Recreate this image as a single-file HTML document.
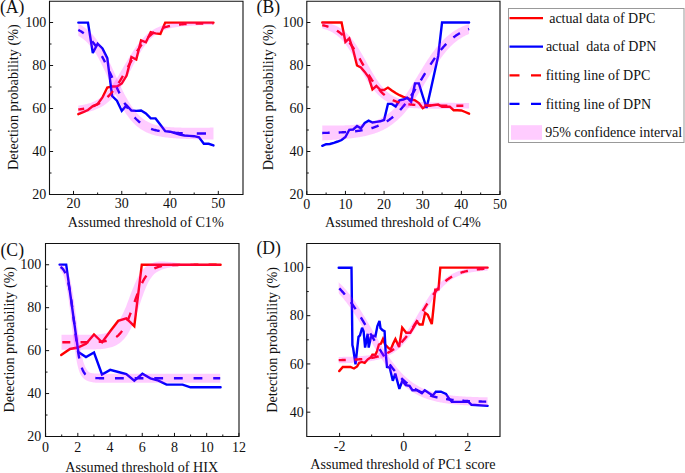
<!DOCTYPE html><html><head><meta charset="utf-8"><style>html,body{margin:0;padding:0;background:#fff;}svg{display:block}</style></head><body>
<svg width="685" height="473" viewBox="0 0 685 473" font-family='"Liberation Serif", serif' fill="#111">
<rect x="0" y="0" width="685" height="473" fill="#fff"/>
<polyline points="78.33,114.2 83.15,112.2 87.98,110 92.81,106 97.63,104 102.46,97.5 107.29,87.5 112.12,86.5 116.94,86.5 121.77,83.5 126.6,75.5 131.42,57 136.25,59.5 141.08,40.3 145.91,42.3 150.73,32.1 155.56,33.4 160.39,34 165.21,22.6 170.04,22.6 174.87,22.6 179.69,22.6 184.52,22.6 189.35,22.6 194.18,22.6 199,22.6 203.83,22.6 208.66,22.6 213.48,22.6" fill="none" stroke="#ff0000" stroke-width="2.4" stroke-linejoin="miter" stroke-miterlimit="3" stroke-linecap="round"/>
<polyline points="78.33,22.6 83.15,22.6 87.98,22.6 92.81,53 97.63,43.7 102.46,48.4 107.29,58.2 112.12,96 116.94,100.7 121.77,110.9 126.6,105.2 131.42,110.5 136.25,110.9 141.08,110.5 145.91,113.5 150.73,118.4 155.56,118.4 160.39,124.7 165.21,131.1 170.04,131.7 174.87,133 179.69,134.5 184.52,135.5 189.35,135.9 194.18,136.2 199,137.4 203.83,143.8 208.66,143.8 213.48,145.4" fill="none" stroke="#0000ff" stroke-width="2.4" stroke-linejoin="miter" stroke-miterlimit="3" stroke-linecap="round"/>
<path d="M78.33,109.56 L78.82,109.5 L79.36,109.43 L79.9,109.36 L80.45,109.29 L80.99,109.21 L81.48,109.13 L82.02,109.05 L82.56,108.96 L83.1,108.87 L83.64,108.77 L84.16,108.68 M93.01,106.29 L93.6,106.06 L94.24,105.81 L94.87,105.55 L95.54,105.26 L96.17,104.98 L96.8,104.68 L97.44,104.36 L98.11,104.01 L98.74,103.67 L99.37,103.31 L100.01,102.94 M107.51,97.13 L107.98,96.68 L108.48,96.18 L108.97,95.67 L109.47,95.15 L109.96,94.61 L110.46,94.06 L110.96,93.5 L111.45,92.92 L111.95,92.33 L112.44,91.72 L112.94,91.1 M118.62,83.03 L118.98,82.47 L119.38,81.82 L119.79,81.17 L120.15,80.59 L120.55,79.92 L120.96,79.25 L121.37,78.57 L121.73,77.96 L122.13,77.27 L122.54,76.58 L122.93,75.91 M127.83,67.2 L128.17,66.58 L128.53,65.93 L128.94,65.2 L129.3,64.56 L129.66,63.91 L130.06,63.18 L130.42,62.54 L130.79,61.9 L131.19,61.18 L131.55,60.55 L131.91,59.91 M137.03,51.36 L137.41,50.78 L137.86,50.08 L138.27,49.47 L138.72,48.79 L139.12,48.19 L139.57,47.54 L139.98,46.96 L140.43,46.32 L140.83,45.76 L141.29,45.15 L141.72,44.57 M148.13,37.25 L148.63,36.77 L149.22,36.23 L149.76,35.75 L150.34,35.24 L150.93,34.75 L151.47,34.32 L152.06,33.86 L152.64,33.42 L153.18,33.03 L153.77,32.62 L154.32,32.25 M162.62,28.06 L163.23,27.84 L163.91,27.61 L164.59,27.38 L165.26,27.17 L165.94,26.97 L166.61,26.78 L167.29,26.6 L167.97,26.43 L168.64,26.26 L169.32,26.11 L169.99,25.96 M179,24.58 L179.64,24.52 L180.31,24.45 L181.03,24.38 L181.71,24.33 L182.43,24.27 L183.11,24.21 L183.83,24.16 L184.5,24.11 L185.23,24.07 L185.9,24.02 L186.58,23.98 M195.68,23.62 L196.31,23.6 L196.99,23.58 L197.71,23.57 L198.39,23.55 L199.11,23.54 L199.78,23.52 L200.5,23.51 L201.18,23.5 L201.9,23.48 L202.58,23.47 L203.27,23.46 M212.37,23.37 L212.45,23.37 L212.54,23.37 L212.63,23.37 L212.76,23.37 L212.85,23.36 L212.94,23.36 L213.03,23.36 L213.17,23.36 L213.26,23.36 L213.35,23.36 L213.48,23.36" fill="none" stroke="#ff0000" stroke-width="2.4" stroke-linecap="butt" stroke-linejoin="round"/>
<path d="M78.33,29.92 L78.82,30.18 L79.32,30.44 L79.81,30.71 L80.31,30.99 L80.81,31.28 L81.3,31.58 L81.8,31.89 L82.29,32.22 L82.79,32.55 L83.28,32.89 L83.79,33.26 M92.14,41.23 L92.48,41.63 L92.88,42.13 L93.29,42.65 L93.65,43.11 L94.06,43.65 L94.46,44.19 L94.87,44.75 L95.23,45.25 L95.63,45.83 L96.04,46.42 L96.41,46.97 M101.88,56.11 L102.12,56.56 L102.39,57.07 L102.71,57.66 L102.98,58.18 L103.29,58.78 L103.56,59.31 L103.88,59.92 L104.15,60.45 L104.47,61.08 L104.74,61.62 L105.03,62.2 M109.5,71.62 L109.69,72.04 L109.96,72.63 L110.23,73.22 L110.5,73.81 L110.78,74.4 L111,74.9 L111.27,75.49 L111.54,76.09 L111.81,76.69 L112.08,77.28 L112.31,77.79 M116.63,87.24 L116.86,87.74 L117.13,88.31 L117.4,88.89 L117.67,89.46 L117.94,90.04 L118.21,90.61 L118.48,91.17 L118.75,91.74 L119.02,92.3 L119.29,92.85 L119.55,93.38 M124.41,102.71 L124.7,103.23 L125.02,103.78 L125.38,104.4 L125.69,104.94 L126.01,105.47 L126.37,106.07 L126.68,106.59 L127,107.1 L127.36,107.68 L127.68,108.18 L127.99,108.67 M134.62,117.43 L135.11,117.96 L135.61,118.49 L136.1,119 L136.6,119.49 L137.09,119.97 L137.64,120.48 L138.13,120.93 L138.63,121.37 L139.12,121.8 L139.62,122.21 L140.12,122.61 M151.1,128.76 L151.83,129.02 L152.6,129.28 L153.41,129.55 L154.17,129.78 L154.94,130 L155.75,130.22 L156.52,130.42 L157.28,130.6 L158.1,130.78 L158.86,130.95 L159.65,131.11 M173.53,132.77 L174.32,132.82 L175.18,132.88 L175.99,132.92 L176.84,132.97 L177.7,133.01 L178.51,133.05 L179.37,133.08 L180.22,133.12 L181.03,133.15 L181.89,133.18 L182.71,133.21 M196.8,133.48 L197.57,133.49 L198.43,133.5 L199.29,133.5 L200.1,133.51 L200.95,133.52 L201.81,133.52 L202.67,133.53 L203.48,133.53 L204.33,133.54 L205.19,133.54 L206,133.55" fill="none" stroke="#0000ff" stroke-width="2.4" stroke-linecap="butt" stroke-linejoin="round"/>
<clipPath id="c1"><rect x="78.33" y="0" width="135.16" height="473"/></clipPath>
<path d="M65.18,31.28 L65.94,31.44 L66.67,31.61 L67.4,31.78 L68.12,31.97 L68.84,32.16 L69.55,32.37 L70.27,32.59 L70.98,32.82 L71.68,33.06 L72.38,33.32 L73.08,33.59 L73.78,33.88 L74.47,34.18 L75.16,34.5 L75.86,34.82 L76.58,35.12 L77.29,35.45 L78.01,35.8 L78.73,36.18 L79.45,36.58 L80.18,37 L80.9,37.46 L81.64,37.94 L82.37,38.46 L83.11,39 L83.86,39.59 L84.61,40.2 L85.36,40.86 L86.12,41.55 L86.89,42.29 L87.66,43.07 L88.44,43.89 L89.22,44.75 L90,45.66 L90.8,46.61 L91.59,47.62 L92.39,48.67 L93.2,49.76 L94.01,50.91 L94.82,52.1 L95.63,53.34 L96.45,54.62 L97.23,55.97 L98.01,57.37 L98.79,58.81 L99.57,60.29 L100.35,61.81 L101.14,63.37 L101.92,64.96 L102.71,66.58 L103.5,68.23 L104.29,69.9 L105.09,71.6 L105.88,73.32 L106.68,75.06 L107.47,76.81 L108.27,78.56 L109.07,80.33 L109.87,82.09 L110.67,83.86 L111.48,85.62 L112.28,87.37 L113.09,89.11 L113.89,90.83 L114.69,92.55 L115.48,94.24 L116.26,95.92 L117.05,97.57 L117.84,99.19 L118.63,100.78 L119.42,102.33 L120.22,103.86 L121.02,105.34 L121.82,106.79 L122.62,108.2 L123.43,109.58 L124.24,110.91 L125.05,112.2 L125.87,113.46 L126.69,114.67 L127.52,115.84 L128.35,116.98 L129.19,118.07 L130.02,119.13 L130.87,120.14 L131.72,121.12 L132.57,122.05 L133.43,122.95 L134.29,123.82 L135.15,124.65 L136.02,125.44 L136.89,126.19 L137.77,126.92 L138.65,127.61 L139.53,128.27 L140.42,128.89 L141.3,129.49 L142.19,130.06 L143.08,130.59 L143.98,131.08 L144.87,131.55 L145.77,131.99 L146.66,132.41 L147.56,132.81 L148.45,133.18 L149.33,133.53 L150.22,133.86 L151.1,134.17 L151.98,134.47 L152.86,134.74 L153.73,135.01 L154.6,135.25 L155.47,135.48 L156.34,135.7 L157.2,135.9 L158.06,136.1 L158.92,136.28 L159.77,136.45 L160.62,136.61 L161.47,136.76 L162.32,136.9 L163.16,137.04 L164,137.17 L164.84,137.29 L165.68,137.4 L166.52,137.5 L167.35,137.61 L168.18,137.7 L169.01,137.79 L169.84,137.88 L170.67,137.96 L171.49,138.03 L172.31,138.1 L173.14,138.17 L173.96,138.24 L174.78,138.3 L175.6,138.36 L176.41,138.41 L177.23,138.46 L178.05,138.51 L178.86,138.56 L179.67,138.61 L180.49,138.65 L181.3,138.69 L182.11,138.73 L182.92,138.77 L183.73,138.8 L184.54,138.84 L185.35,138.87 L186.16,138.9 L186.97,138.93 L187.77,138.96 L188.58,138.99 L189.39,139.02 L190.19,139.05 L191,139.07 L191.8,139.1 L192.61,139.12 L193.41,139.14 L194.22,139.16 L195.02,139.19 L195.83,139.21 L196.63,139.23 L197.43,139.25 L198.24,139.27 L199.04,139.28 L199.84,139.3 L200.65,139.32 L201.45,139.34 L202.25,139.36 L203.05,139.37 L203.85,139.39 L204.66,139.41 L205.46,139.42 L206.26,139.44 L207.06,139.45 L207.86,139.47 L208.66,139.48 L209.46,139.5 L210.27,139.51 L211.07,139.53 L211.87,139.54 L212.67,139.55 L213.47,139.57 L214.27,139.58 L215.07,139.58 L215.87,139.58 L216.67,139.58 L217.47,139.59 L218.27,139.59 L219.07,139.59 L219.87,139.59 L220.68,139.59 L221.48,139.59 L222.28,139.59 L223.08,139.59 L223.88,139.6 L224.68,139.6 L225.48,139.6 L225.49,127.6 L224.69,127.6 L223.89,127.6 L223.09,127.59 L222.29,127.59 L221.49,127.59 L220.69,127.59 L219.89,127.59 L219.1,127.59 L218.3,127.59 L217.5,127.59 L216.7,127.58 L215.9,127.58 L215.1,127.58 L214.3,127.58 L213.5,127.58 L212.7,127.59 L211.91,127.6 L211.11,127.61 L210.31,127.62 L209.51,127.63 L208.71,127.64 L207.91,127.64 L207.12,127.65 L206.32,127.66 L205.52,127.67 L204.72,127.68 L203.92,127.68 L203.13,127.69 L202.33,127.7 L201.53,127.7 L200.73,127.71 L199.94,127.71 L199.14,127.72 L198.34,127.72 L197.55,127.73 L196.75,127.73 L195.96,127.73 L195.16,127.73 L194.36,127.74 L193.57,127.74 L192.77,127.74 L191.98,127.74 L191.19,127.74 L190.39,127.73 L189.6,127.73 L188.81,127.73 L188.01,127.72 L187.22,127.72 L186.43,127.71 L185.64,127.7 L184.85,127.69 L184.06,127.68 L183.27,127.67 L182.48,127.66 L181.69,127.64 L180.9,127.62 L180.12,127.6 L179.33,127.58 L178.55,127.56 L177.76,127.53 L176.98,127.51 L176.2,127.48 L175.42,127.44 L174.64,127.41 L173.86,127.37 L173.08,127.33 L172.3,127.28 L171.53,127.23 L170.76,127.18 L169.99,127.12 L169.22,127.06 L168.45,127 L167.68,126.93 L166.92,126.85 L166.16,126.77 L165.4,126.69 L164.64,126.59 L163.88,126.5 L163.13,126.39 L162.38,126.28 L161.63,126.16 L160.88,126.03 L160.14,125.9 L159.4,125.75 L158.67,125.6 L157.93,125.44 L157.2,125.27 L156.47,125.08 L155.75,124.89 L155.02,124.68 L154.31,124.47 L153.59,124.23 L152.87,123.99 L152.16,123.73 L151.45,123.46 L150.74,123.16 L150.04,122.86 L149.33,122.53 L148.63,122.19 L147.93,121.82 L147.22,121.44 L146.51,121.05 L145.8,120.63 L145.08,120.19 L144.36,119.72 L143.64,119.22 L142.92,118.69 L142.19,118.13 L141.46,117.54 L140.73,116.91 L139.99,116.25 L139.25,115.54 L138.5,114.8 L137.75,114.02 L136.99,113.2 L136.23,112.33 L135.47,111.42 L134.7,110.46 L133.92,109.46 L133.15,108.41 L132.36,107.32 L131.58,106.17 L130.79,104.99 L130,103.75 L129.2,102.47 L128.41,101.15 L127.6,99.78 L126.8,98.36 L125.99,96.91 L125.19,95.42 L124.38,93.88 L123.56,92.32 L122.75,90.72 L121.93,89.09 L121.13,87.43 L120.34,85.73 L119.55,84.02 L118.75,82.29 L117.95,80.54 L117.16,78.79 L116.36,77.02 L115.56,75.26 L114.76,73.49 L113.95,71.73 L113.15,69.98 L112.34,68.23 L111.54,66.5 L110.73,64.79 L109.92,63.1 L109.11,61.43 L108.29,59.79 L107.48,58.18 L106.66,56.59 L105.85,55.04 L105.02,53.53 L104.2,52.05 L103.38,50.6 L102.6,49.17 L101.82,47.77 L101.03,46.42 L100.24,45.1 L99.45,43.82 L98.65,42.59 L97.84,41.39 L97.04,40.23 L96.22,39.11 L95.4,38.03 L94.58,36.99 L93.75,35.98 L92.92,35.02 L92.08,34.09 L91.24,33.19 L90.39,32.34 L89.53,31.51 L88.67,30.72 L87.81,29.97 L86.94,29.25 L86.07,28.55 L85.19,27.89 L84.32,27.26 L83.44,26.66 L82.55,26.09 L81.67,25.55 L80.78,25.03 L79.88,24.56 L78.98,24.14 L78.07,23.75 L77.17,23.38 L76.27,23.03 L75.37,22.7 L74.48,22.39 L73.58,22.1 L72.7,21.83 L71.81,21.57 L70.93,21.33 L70.06,21.11 L69.18,20.9 L68.31,20.7 L67.48,20.52Z" fill="rgba(255,0,255,0.2)" stroke="none" clip-path="url(#c1)"/>
<clipPath id="c2"><rect x="78.33" y="0" width="135.16" height="473"/></clipPath>
<path d="M66.52,114.48 L67.32,114.44 L68.13,114.4 L68.95,114.36 L69.76,114.31 L70.58,114.26 L71.39,114.21 L72.21,114.15 L73.03,114.09 L73.85,114.02 L74.67,113.96 L75.49,113.88 L76.32,113.8 L77.14,113.72 L77.97,113.63 L78.8,113.53 L79.63,113.43 L80.46,113.32 L81.29,113.2 L82.13,113.08 L82.97,112.95 L83.81,112.81 L84.65,112.65 L85.5,112.49 L86.34,112.32 L87.19,112.14 L88.05,111.94 L88.9,111.73 L89.76,111.51 L90.62,111.27 L91.48,111.02 L92.34,110.75 L93.21,110.46 L94.08,110.16 L94.95,109.83 L95.82,109.49 L96.7,109.12 L97.58,108.74 L98.47,108.34 L99.35,107.92 L100.24,107.46 L101.12,106.98 L102.01,106.48 L102.9,105.94 L103.79,105.38 L104.67,104.79 L105.56,104.16 L106.44,103.5 L107.33,102.81 L108.21,102.09 L109.09,101.33 L109.97,100.54 L110.84,99.72 L111.71,98.86 L112.58,97.96 L113.44,97.02 L114.29,96.04 L115.13,95.03 L115.97,93.98 L116.8,92.9 L117.64,91.78 L118.46,90.63 L119.29,89.45 L120.11,88.24 L120.93,87 L121.75,85.73 L122.56,84.43 L123.37,83.11 L124.18,81.76 L124.99,80.39 L125.8,79 L126.6,77.6 L127.4,76.18 L128.2,74.75 L128.98,73.3 L129.74,71.84 L130.51,70.38 L131.27,68.92 L132.03,67.46 L132.79,66.01 L133.55,64.57 L134.31,63.13 L135.06,61.72 L135.82,60.32 L136.57,58.94 L137.32,57.59 L138.07,56.26 L138.82,54.95 L139.56,53.68 L140.31,52.44 L141.05,51.22 L141.79,50.05 L142.53,48.9 L143.28,47.8 L144.03,46.74 L144.77,45.71 L145.52,44.73 L146.26,43.77 L147,42.86 L147.74,41.98 L148.48,41.14 L149.21,40.33 L149.95,39.56 L150.68,38.82 L151.41,38.11 L152.14,37.44 L152.87,36.8 L153.6,36.18 L154.33,35.6 L155.06,35.04 L155.79,34.51 L156.52,34.01 L157.25,33.53 L157.99,33.07 L158.72,32.64 L159.46,32.23 L160.19,31.83 L160.93,31.46 L161.68,31.11 L162.42,30.79 L163.17,30.48 L163.92,30.19 L164.68,29.91 L165.43,29.65 L166.19,29.4 L166.95,29.16 L167.71,28.94 L168.47,28.73 L169.23,28.52 L170,28.33 L170.77,28.15 L171.54,27.98 L172.31,27.82 L173.08,27.67 L173.86,27.53 L174.63,27.39 L175.41,27.26 L176.19,27.14 L176.97,27.02 L177.75,26.91 L178.53,26.8 L179.32,26.71 L180.1,26.61 L180.89,26.52 L181.68,26.44 L182.46,26.36 L183.25,26.28 L184.04,26.21 L184.83,26.14 L185.62,26.07 L186.41,26.01 L187.2,25.95 L188,25.89 L188.79,25.84 L189.58,25.79 L190.37,25.74 L191.17,25.69 L191.96,25.65 L192.76,25.6 L193.55,25.56 L194.35,25.52 L195.14,25.48 L195.94,25.45 L196.74,25.41 L197.53,25.38 L198.33,25.34 L199.13,25.31 L199.92,25.28 L200.72,25.25 L201.52,25.22 L202.32,25.19 L203.11,25.17 L203.91,25.14 L204.71,25.12 L205.51,25.09 L206.31,25.07 L207.11,25.04 L207.9,25.02 L208.7,25 L209.5,24.97 L210.3,24.95 L211.1,24.93 L211.9,24.91 L212.7,24.89 L213.5,24.87 L214.3,24.86 L215.09,24.85 L215.89,24.85 L216.69,24.84 L217.49,24.84 L218.29,24.84 L219.09,24.83 L219.89,24.83 L220.69,24.83 L221.49,24.82 L222.29,24.82 L223.09,24.82 L223.89,24.82 L224.69,24.81 L225.49,24.81 L225.48,21.81 L224.68,21.81 L223.88,21.82 L223.08,21.82 L222.28,21.82 L221.48,21.82 L220.68,21.83 L219.88,21.83 L219.08,21.83 L218.28,21.84 L217.48,21.84 L216.68,21.84 L215.88,21.85 L215.08,21.85 L214.28,21.86 L213.48,21.85 L212.68,21.84 L211.88,21.83 L211.07,21.82 L210.27,21.82 L209.47,21.81 L208.67,21.8 L207.87,21.79 L207.07,21.79 L206.27,21.78 L205.47,21.78 L204.67,21.77 L203.87,21.77 L203.06,21.76 L202.26,21.76 L201.46,21.76 L200.66,21.76 L199.86,21.76 L199.05,21.76 L198.25,21.76 L197.45,21.77 L196.65,21.77 L195.84,21.78 L195.04,21.78 L194.23,21.79 L193.43,21.8 L192.63,21.82 L191.82,21.83 L191.02,21.85 L190.21,21.86 L189.4,21.88 L188.6,21.91 L187.79,21.93 L186.98,21.96 L186.18,21.99 L185.37,22.03 L184.56,22.06 L183.75,22.1 L182.94,22.15 L182.13,22.2 L181.31,22.25 L180.5,22.31 L179.69,22.37 L178.87,22.44 L178.06,22.51 L177.24,22.59 L176.42,22.67 L175.6,22.76 L174.78,22.86 L173.96,22.97 L173.14,23.08 L172.31,23.21 L171.49,23.34 L170.66,23.48 L169.83,23.63 L169,23.8 L168.16,23.97 L167.33,24.16 L166.49,24.36 L165.65,24.57 L164.81,24.8 L163.97,25.05 L163.12,25.31 L162.28,25.59 L161.43,25.88 L160.58,26.2 L159.73,26.54 L158.87,26.9 L158.01,27.26 L157.15,27.66 L156.28,28.07 L155.42,28.52 L154.55,28.99 L153.68,29.49 L152.81,30.01 L151.94,30.57 L151.07,31.16 L150.2,31.78 L149.33,32.43 L148.46,33.11 L147.6,33.83 L146.73,34.58 L145.86,35.37 L145,36.2 L144.13,37.06 L143.27,37.95 L142.41,38.88 L141.55,39.85 L140.7,40.85 L139.84,41.89 L138.99,42.97 L138.14,44.08 L137.28,45.22 L136.42,46.39 L135.57,47.58 L134.71,48.81 L133.85,50.07 L133,51.36 L132.15,52.67 L131.3,54 L130.45,55.36 L129.6,56.73 L128.76,58.12 L127.91,59.52 L127.07,60.93 L126.23,62.34 L125.39,63.76 L124.55,65.19 L123.71,66.6 L122.88,68.02 L122.05,69.42 L121.22,70.81 L120.42,72.21 L119.62,73.58 L118.83,74.93 L118.03,76.26 L117.24,77.56 L116.45,78.84 L115.66,80.08 L114.88,81.3 L114.09,82.47 L113.31,83.62 L112.54,84.73 L111.76,85.8 L110.99,86.83 L110.22,87.83 L109.46,88.78 L108.7,89.7 L107.94,90.58 L107.19,91.42 L106.45,92.24 L105.72,93.02 L104.99,93.76 L104.27,94.48 L103.54,95.15 L102.82,95.8 L102.11,96.41 L101.39,97 L100.67,97.55 L99.96,98.08 L99.25,98.58 L98.54,99.06 L97.83,99.51 L97.11,99.94 L96.4,100.34 L95.69,100.73 L94.97,101.09 L94.26,101.44 L93.54,101.77 L92.81,102.07 L92.09,102.36 L91.36,102.63 L90.63,102.89 L89.9,103.13 L89.16,103.36 L88.42,103.58 L87.68,103.78 L86.94,103.97 L86.2,104.16 L85.45,104.33 L84.7,104.49 L83.95,104.64 L83.19,104.79 L82.44,104.92 L81.68,105.05 L80.91,105.17 L80.15,105.29 L79.39,105.39 L78.62,105.49 L77.85,105.59 L77.08,105.68 L76.31,105.76 L75.53,105.84 L74.76,105.92 L73.98,105.99 L73.2,106.05 L72.42,106.11 L71.64,106.17 L70.86,106.22 L70.07,106.28 L69.29,106.32 L68.51,106.37 L67.72,106.41 L66.93,106.45 L66.14,106.49Z" fill="rgba(255,0,255,0.2)" stroke="none" clip-path="url(#c2)"/>
<path d="M49.5,1.3 V194.5 H243 V1.3 Z" fill="none" stroke="#111" stroke-width="1.1"/>
<line x1="49.5" y1="194.5" x2="53.1" y2="194.5" stroke="#111" stroke-width="1"/>
<text x="46.2" y="199.1" text-anchor="end" font-size="14" >20</text>
<line x1="49.5" y1="151.5" x2="53.1" y2="151.5" stroke="#111" stroke-width="1"/>
<text x="46.2" y="156.1" text-anchor="end" font-size="14" >40</text>
<line x1="49.5" y1="108.5" x2="53.1" y2="108.5" stroke="#111" stroke-width="1"/>
<text x="46.2" y="113.1" text-anchor="end" font-size="14" >60</text>
<line x1="49.5" y1="65.5" x2="53.1" y2="65.5" stroke="#111" stroke-width="1"/>
<text x="46.2" y="70.1" text-anchor="end" font-size="14" >80</text>
<line x1="49.5" y1="22.5" x2="53.1" y2="22.5" stroke="#111" stroke-width="1"/>
<text x="46.2" y="27.1" text-anchor="end" font-size="14" >100</text>
<line x1="49.5" y1="173" x2="51.5" y2="173" stroke="#111" stroke-width="1"/>
<line x1="49.5" y1="130" x2="51.5" y2="130" stroke="#111" stroke-width="1"/>
<line x1="49.5" y1="87" x2="51.5" y2="87" stroke="#111" stroke-width="1"/>
<line x1="49.5" y1="44" x2="51.5" y2="44" stroke="#111" stroke-width="1"/>
<line x1="73.5" y1="194.5" x2="73.5" y2="190.9" stroke="#111" stroke-width="1"/>
<text x="73.5" y="208.3" text-anchor="middle" font-size="14" >20</text>
<line x1="121.77" y1="194.5" x2="121.77" y2="190.9" stroke="#111" stroke-width="1"/>
<text x="121.77" y="208.3" text-anchor="middle" font-size="14" >30</text>
<line x1="170.04" y1="194.5" x2="170.04" y2="190.9" stroke="#111" stroke-width="1"/>
<text x="170.04" y="208.3" text-anchor="middle" font-size="14" >40</text>
<line x1="218.31" y1="194.5" x2="218.31" y2="190.9" stroke="#111" stroke-width="1"/>
<text x="218.31" y="208.3" text-anchor="middle" font-size="14" >50</text>
<line x1="97.63" y1="194.5" x2="97.63" y2="192.5" stroke="#111" stroke-width="1"/>
<line x1="145.91" y1="194.5" x2="145.91" y2="192.5" stroke="#111" stroke-width="1"/>
<line x1="194.18" y1="194.5" x2="194.18" y2="192.5" stroke="#111" stroke-width="1"/>
<text x="145.75" y="226.8" text-anchor="middle" font-size="14.15" >Assumed threshold of C1%</text>
<text transform="translate(17.8,97.2) rotate(-90)" text-anchor="middle" font-size="14.2">Detection probability (%)</text>
<text transform="translate(0.0,12.7) scale(1.02,1.08)" font-size="17.3">(A)</text>
<polyline points="322.26,22.5 326.12,22.5 329.98,22.5 333.85,22.5 337.71,22.5 341.58,22.5 345.44,41.9 349.3,38.3 353.17,50 357.03,65.5 360.9,67.4 364.76,71.9 368.62,77.2 372.49,89.3 376.35,86 380.22,89.8 384.08,90 387.94,87.6 391.81,90.4 395.67,93 399.54,95.2 403.4,96.8 407.26,98.1 411.13,99.3 414.99,100.3 418.86,103 422.72,108.2 426.58,106 430.45,105.5 434.31,105 438.18,104.6 442.04,106.7 445.9,106.7 449.77,106.7 453.63,110.2 457.5,110.2 461.36,110.5 465.22,112 469.09,113.7" fill="none" stroke="#ff0000" stroke-width="2.4" stroke-linejoin="miter" stroke-miterlimit="3" stroke-linecap="round"/>
<polyline points="322.26,145.8 326.12,144.2 329.98,144 333.85,142.8 337.71,141.5 341.58,140 345.44,137 349.3,129.8 353.17,129.5 357.03,126 360.9,128.3 364.76,123 368.62,120.7 372.49,122.5 376.35,121.9 380.22,121.3 384.08,120 387.94,103.9 391.81,103.9 395.67,106.5 399.54,100.3 403.4,99.5 407.26,97.8 411.13,102 414.99,83.4 418.86,83.4 422.72,96 426.58,108 430.45,91 434.31,73.6 438.18,56 442.04,22.5 445.9,22.5 449.77,22.5 453.63,22.5 457.5,22.5 461.36,22.5 465.22,22.5 469.09,22.5" fill="none" stroke="#0000ff" stroke-width="2.4" stroke-linejoin="miter" stroke-miterlimit="3" stroke-linecap="round"/>
<path d="M322.26,25.19 L322.79,25.3 L323.38,25.42 L323.92,25.54 L324.51,25.68 L325.05,25.81 L325.63,25.96 L326.17,26.11 L326.76,26.27 L327.3,26.43 L327.89,26.61 L328.46,26.79 M336.9,30.67 L337.38,30.97 L337.92,31.33 L338.46,31.69 L339,32.07 L339.54,32.46 L340.13,32.9 L340.67,33.33 L341.2,33.77 L341.74,34.22 L342.28,34.69 L342.86,35.21 M349.57,42.7 L349.92,43.16 L350.36,43.76 L350.75,44.3 L351.19,44.92 L351.63,45.55 L352.02,46.12 L352.46,46.76 L352.91,47.42 L353.3,48.02 L353.74,48.7 L354.14,49.32 M359.5,58.36 L359.81,58.92 L360.2,59.62 L360.54,60.23 L360.93,60.93 L361.28,61.55 L361.67,62.26 L362.01,62.88 L362.4,63.59 L362.75,64.21 L363.14,64.92 L363.49,65.55 M368.68,74.73 L369.06,75.37 L369.45,76.03 L369.85,76.68 L370.24,77.32 L370.63,77.95 L371.02,78.58 L371.41,79.2 L371.8,79.82 L372.2,80.42 L372.59,81.02 L372.99,81.63 M379.19,89.77 L379.64,90.28 L380.13,90.81 L380.67,91.38 L381.16,91.88 L381.64,92.36 L382.18,92.88 L382.67,93.34 L383.16,93.79 L383.7,94.26 L384.19,94.68 L384.72,95.12 M392.76,100.12 L393.35,100.39 L393.98,100.66 L394.57,100.9 L395.21,101.15 L395.79,101.37 L396.43,101.59 L397.02,101.79 L397.65,102 L398.24,102.18 L398.88,102.36 L399.48,102.53 M408.38,104.24 L408.96,104.32 L409.6,104.4 L410.24,104.47 L410.87,104.54 L411.51,104.6 L412.15,104.67 L412.78,104.72 L413.42,104.78 L414.06,104.83 L414.69,104.88 L415.35,104.93 M424.35,105.38 L424.97,105.4 L425.61,105.42 L426.25,105.44 L426.88,105.46 L427.52,105.47 L428.16,105.49 L428.79,105.5 L429.43,105.52 L430.07,105.53 L430.7,105.54 L431.34,105.56 M440.34,105.67 L440.94,105.67 L441.57,105.68 L442.21,105.68 L442.85,105.69 L443.48,105.69 L444.12,105.69 L444.75,105.7 L445.39,105.7 L446.03,105.71 L446.66,105.71 L447.34,105.71 M456.34,105.74 L456.95,105.74 L457.58,105.74 L458.22,105.74 L458.86,105.74 L459.49,105.75 L460.13,105.75 L460.76,105.75 L461.4,105.75 L462.04,105.75 L462.67,105.75 L463.34,105.75" fill="none" stroke="#ff0000" stroke-width="2.4" stroke-linecap="butt" stroke-linejoin="round"/>
<path d="M322.26,132.94 L322.89,132.93 L323.58,132.92 L324.26,132.91 L324.95,132.89 L325.63,132.88 L326.27,132.87 L326.96,132.85 L327.64,132.84 L328.33,132.82 L329.01,132.8 L329.68,132.79 M338.68,132.48 L339.34,132.45 L340.03,132.42 L340.71,132.39 L341.4,132.35 L342.08,132.32 L342.77,132.28 L343.46,132.24 L344.14,132.2 L344.83,132.16 L345.51,132.11 L346.17,132.07 M355.14,131.26 L355.74,131.19 L356.43,131.11 L357.12,131.02 L357.8,130.93 L358.49,130.84 L359.17,130.74 L359.86,130.64 L360.54,130.53 L361.23,130.42 L361.91,130.31 L362.59,130.19 M371.42,128.18 L372.05,128 L372.69,127.81 L373.37,127.59 L374.01,127.38 L374.64,127.17 L375.33,126.93 L375.97,126.7 L376.6,126.46 L377.29,126.2 L377.92,125.94 L378.59,125.67 M386.8,121.39 L387.32,121.06 L387.91,120.67 L388.5,120.27 L389.09,119.87 L389.67,119.45 L390.21,119.06 L390.8,118.62 L391.39,118.17 L391.98,117.7 L392.56,117.23 L393.14,116.75 M400.06,110.07 L400.49,109.59 L400.98,109.04 L401.47,108.48 L401.96,107.92 L402.45,107.34 L402.89,106.82 L403.38,106.22 L403.87,105.62 L404.36,105.01 L404.85,104.39 L405.29,103.82 M411.07,95.8 L411.41,95.28 L411.85,94.62 L412.25,94.03 L412.69,93.36 L413.08,92.76 L413.52,92.08 L413.91,91.48 L414.35,90.79 L414.74,90.18 L415.18,89.48 L415.59,88.84 M420.82,80.33 L421.2,79.69 L421.6,79.04 L421.99,78.39 L422.38,77.75 L422.77,77.1 L423.16,76.45 L423.55,75.8 L423.95,75.16 L424.34,74.51 L424.73,73.86 L425.14,73.19 M430.41,64.71 L430.8,64.11 L431.24,63.43 L431.63,62.83 L432.07,62.15 L432.47,61.56 L432.91,60.9 L433.3,60.31 L433.74,59.66 L434.13,59.08 L434.57,58.44 L435,57.82 M440.91,49.92 L441.38,49.35 L441.87,48.76 L442.36,48.18 L442.85,47.61 L443.33,47.05 L443.82,46.49 L444.31,45.95 L444.8,45.41 L445.29,44.89 L445.78,44.37 L446.28,43.85 M453.41,37.46 L453.96,37.04 L454.55,36.61 L455.13,36.18 L455.72,35.77 L456.31,35.36 L456.95,34.94 L457.53,34.56 L458.12,34.19 L458.71,33.83 L459.3,33.48 L459.91,33.13 M468.25,29.23 L468.26,29.23 L468.35,29.19 L468.4,29.17 L468.5,29.14 L468.6,29.1 L468.65,29.08 L468.75,29.05 L468.84,29.01 L468.89,28.99 L468.99,28.96 L469.09,28.92" fill="none" stroke="#0000ff" stroke-width="2.4" stroke-linecap="butt" stroke-linejoin="round"/>
<clipPath id="c3"><rect x="322.26" y="0" width="146.83" height="473"/></clipPath>
<path d="M310.32,140.58 L311.18,140.58 L312.04,140.57 L312.9,140.56 L313.76,140.55 L314.63,140.54 L315.49,140.54 L316.35,140.53 L317.22,140.52 L318.08,140.5 L318.94,140.49 L319.81,140.48 L320.67,140.47 L321.53,140.46 L322.4,140.43 L323.26,140.39 L324.13,140.35 L324.99,140.31 L325.86,140.26 L326.72,140.22 L327.59,140.17 L328.46,140.12 L329.32,140.08 L330.19,140.03 L331.06,139.98 L331.93,139.93 L332.8,139.87 L333.66,139.82 L334.53,139.76 L335.4,139.71 L336.27,139.65 L337.15,139.59 L338.02,139.52 L338.89,139.46 L339.76,139.39 L340.64,139.33 L341.51,139.26 L342.39,139.18 L343.26,139.11 L344.14,139.03 L345.02,138.95 L345.89,138.87 L346.77,138.78 L347.65,138.69 L348.54,138.6 L349.42,138.5 L350.3,138.41 L351.19,138.3 L352.07,138.19 L352.96,138.08 L353.85,137.97 L354.73,137.85 L355.63,137.72 L356.52,137.59 L357.41,137.45 L358.3,137.31 L359.2,137.16 L360.1,137.01 L361,136.85 L361.9,136.68 L362.8,136.51 L363.7,136.32 L364.61,136.13 L365.52,135.93 L366.43,135.72 L367.34,135.51 L368.25,135.28 L369.16,135.04 L370.08,134.79 L371,134.53 L371.92,134.26 L372.84,133.99 L373.76,133.69 L374.69,133.39 L375.62,133.07 L376.54,132.74 L377.48,132.39 L378.41,132.03 L379.34,131.65 L380.27,131.25 L381.21,130.83 L382.14,130.4 L383.08,129.95 L384.01,129.48 L384.95,128.99 L385.89,128.47 L386.82,127.94 L387.76,127.39 L388.69,126.81 L389.63,126.21 L390.56,125.59 L391.49,124.94 L392.42,124.27 L393.35,123.58 L394.27,122.86 L395.2,122.11 L396.12,121.34 L397.04,120.54 L397.95,119.72 L398.87,118.87 L399.78,117.99 L400.68,117.09 L401.59,116.16 L402.49,115.21 L403.39,114.22 L404.28,113.21 L405.18,112.18 L406.07,111.12 L406.95,110.03 L407.84,108.92 L408.72,107.78 L409.6,106.61 L410.47,105.43 L411.35,104.21 L412.22,102.98 L413.08,101.72 L413.95,100.45 L414.83,99.16 L415.71,97.85 L416.59,96.53 L417.46,95.19 L418.34,93.84 L419.21,92.47 L420.08,91.08 L420.95,89.69 L421.82,88.29 L422.68,86.88 L423.55,85.46 L424.41,84.05 L425.27,82.62 L426.13,81.2 L426.99,79.78 L427.85,78.36 L428.7,76.95 L429.56,75.55 L430.41,74.15 L431.26,72.77 L432.11,71.4 L432.96,70.04 L433.8,68.7 L434.65,67.37 L435.49,66.06 L436.33,64.78 L437.17,63.51 L438.01,62.27 L438.84,61.06 L439.68,59.86 L440.51,58.7 L441.34,57.56 L442.16,56.44 L442.99,55.36 L443.81,54.3 L444.62,53.27 L445.43,52.26 L446.24,51.29 L447.05,50.34 L447.85,49.42 L448.66,48.53 L449.46,47.68 L450.25,46.84 L451.05,46.04 L451.84,45.26 L452.63,44.52 L453.42,43.79 L454.21,43.1 L455,42.43 L455.78,41.78 L456.57,41.16 L457.35,40.57 L458.13,39.99 L458.91,39.44 L459.69,38.91 L460.47,38.4 L461.25,37.91 L462.03,37.44 L462.81,36.99 L463.59,36.55 L464.37,36.14 L465.15,35.74 L465.93,35.35 L466.72,34.98 L467.5,34.63 L468.29,34.29 L469.07,33.97 L469.86,33.65 L470.65,33.36 L471.45,33.08 L472.25,32.81 L473.05,32.56 L473.85,32.31 L474.65,32.08 L475.45,31.85 L476.26,31.64 L477.06,31.44 L477.87,31.24 L478.68,31.06 L479.5,30.88 L480.31,30.71 L481.13,30.54 L481.96,30.39 L480.21,21.15 L479.33,21.32 L478.43,21.5 L477.53,21.69 L476.62,21.88 L475.72,22.09 L474.81,22.31 L473.9,22.54 L472.99,22.78 L472.08,23.04 L471.16,23.3 L470.24,23.58 L469.33,23.88 L468.41,24.18 L467.48,24.51 L466.56,24.84 L465.63,25.18 L464.7,25.55 L463.77,25.93 L462.84,26.33 L461.9,26.74 L460.97,27.18 L460.03,27.64 L459.1,28.11 L458.16,28.61 L457.22,29.13 L456.29,29.68 L455.35,30.24 L454.41,30.83 L453.48,31.45 L452.54,32.09 L451.6,32.75 L450.67,33.44 L449.74,34.15 L448.8,34.9 L447.87,35.66 L446.94,36.46 L446.02,37.28 L445.09,38.13 L444.17,39 L443.25,39.91 L442.33,40.84 L441.41,41.8 L440.49,42.78 L439.58,43.79 L438.67,44.83 L437.76,45.9 L436.86,46.99 L435.95,48.11 L435.06,49.26 L434.17,50.44 L433.28,51.63 L432.39,52.86 L431.5,54.1 L430.62,55.36 L429.74,56.65 L428.86,57.95 L427.98,59.28 L427.1,60.62 L426.23,61.97 L425.36,63.34 L424.49,64.72 L423.62,66.12 L422.75,67.52 L421.88,68.93 L421.02,70.34 L420.16,71.76 L419.29,73.19 L418.43,74.61 L417.58,76.03 L416.72,77.44 L415.86,78.86 L415.01,80.26 L414.16,81.66 L413.31,83.04 L412.46,84.41 L411.61,85.77 L410.76,87.11 L409.92,88.44 L409.08,89.74 L408.24,91.03 L407.4,92.29 L406.56,93.53 L405.72,94.75 L404.87,95.93 L404.02,97.08 L403.18,98.21 L402.33,99.31 L401.49,100.38 L400.65,101.42 L399.82,102.44 L398.99,103.42 L398.16,104.37 L397.33,105.3 L396.5,106.19 L395.68,107.06 L394.86,107.89 L394.05,108.7 L393.24,109.48 L392.43,110.22 L391.62,110.94 L390.82,111.64 L390.02,112.3 L389.22,112.94 L388.42,113.56 L387.63,114.15 L386.84,114.72 L386.05,115.26 L385.26,115.78 L384.47,116.28 L383.69,116.75 L382.91,117.21 L382.12,117.65 L381.34,118.06 L380.56,118.46 L379.78,118.85 L379,119.21 L378.22,119.56 L377.44,119.89 L376.66,120.21 L375.87,120.52 L375.09,120.81 L374.31,121.09 L373.52,121.35 L372.73,121.6 L371.95,121.85 L371.16,122.07 L370.37,122.29 L369.57,122.5 L368.78,122.7 L367.98,122.89 L367.18,123.06 L366.38,123.23 L365.58,123.38 L364.77,123.53 L363.97,123.67 L363.16,123.81 L362.35,123.93 L361.54,124.05 L360.73,124.16 L359.91,124.27 L359.09,124.37 L358.28,124.47 L357.46,124.56 L356.64,124.64 L355.81,124.72 L354.99,124.79 L354.17,124.86 L353.34,124.92 L352.51,124.98 L351.68,125.04 L350.85,125.09 L350.02,125.14 L349.19,125.19 L348.35,125.23 L347.52,125.27 L346.68,125.3 L345.85,125.33 L345.01,125.36 L344.17,125.39 L343.33,125.41 L342.49,125.43 L341.65,125.45 L340.81,125.47 L339.97,125.49 L339.12,125.5 L338.28,125.51 L337.44,125.52 L336.59,125.53 L335.74,125.53 L334.9,125.54 L334.05,125.54 L333.2,125.54 L332.36,125.54 L331.51,125.54 L330.66,125.54 L329.81,125.53 L328.96,125.53 L328.11,125.52 L327.26,125.51 L326.41,125.51 L325.56,125.5 L324.71,125.49 L323.85,125.48 L323,125.46 L322.15,125.45 L321.3,125.46 L320.44,125.47 L319.59,125.48 L318.74,125.49 L317.89,125.51 L317.03,125.52 L316.18,125.53 L315.32,125.54 L314.47,125.55 L313.62,125.55 L312.76,125.56 L311.91,125.57 L311.05,125.58 L310.19,125.59Z" fill="rgba(255,0,255,0.2)" stroke="none" clip-path="url(#c3)"/>
<clipPath id="c4"><rect x="322.26" y="0" width="146.83" height="473"/></clipPath>
<path d="M310.02,26.88 L310.87,26.95 L311.71,27.01 L312.55,27.09 L313.38,27.16 L314.22,27.25 L315.05,27.34 L315.88,27.43 L316.71,27.54 L317.54,27.65 L318.37,27.77 L319.19,27.89 L320.01,28.03 L320.83,28.18 L321.65,28.35 L322.46,28.55 L323.26,28.77 L324.06,28.99 L324.85,29.24 L325.64,29.49 L326.43,29.76 L327.22,30.04 L327.99,30.34 L328.77,30.66 L329.54,30.99 L330.31,31.35 L331.07,31.72 L331.83,32.12 L332.59,32.54 L333.34,32.98 L334.09,33.44 L334.84,33.94 L335.59,34.46 L336.34,35.01 L337.08,35.59 L337.84,36.2 L338.6,36.83 L339.37,37.5 L340.14,38.2 L340.91,38.95 L341.69,39.74 L342.47,40.57 L343.26,41.45 L344.04,42.37 L344.84,43.34 L345.63,44.36 L346.43,45.43 L347.24,46.54 L348.04,47.69 L348.85,48.9 L349.67,50.14 L350.49,51.43 L351.31,52.76 L352.13,54.13 L352.96,55.53 L353.79,56.97 L354.62,58.44 L355.46,59.93 L356.3,61.44 L357.15,62.97 L358,64.51 L358.86,66.06 L359.72,67.62 L360.58,69.17 L361.44,70.73 L362.31,72.27 L363.18,73.81 L364.05,75.32 L364.93,76.82 L365.8,78.3 L366.68,79.75 L367.57,81.17 L368.46,82.56 L369.35,83.92 L370.24,85.24 L371.14,86.52 L372.04,87.76 L372.95,88.96 L373.86,90.12 L374.78,91.24 L375.7,92.32 L376.62,93.35 L377.57,94.32 L378.53,95.24 L379.49,96.12 L380.45,96.96 L381.41,97.75 L382.38,98.5 L383.35,99.21 L384.32,99.88 L385.29,100.5 L386.25,101.1 L387.22,101.65 L388.19,102.17 L389.15,102.65 L390.12,103.1 L391.07,103.52 L392.03,103.91 L392.98,104.28 L393.93,104.61 L394.88,104.92 L395.82,105.21 L396.76,105.47 L397.69,105.72 L398.62,105.94 L399.54,106.16 L400.45,106.37 L401.37,106.57 L402.27,106.75 L403.18,106.92 L404.08,107.07 L404.98,107.22 L405.88,107.35 L406.78,107.47 L407.67,107.59 L408.56,107.69 L409.45,107.79 L410.34,107.88 L411.22,107.96 L412.1,108.03 L412.98,108.1 L413.86,108.16 L414.74,108.22 L415.62,108.27 L416.49,108.32 L417.37,108.37 L418.24,108.41 L419.11,108.44 L419.98,108.48 L420.85,108.51 L421.72,108.53 L422.59,108.56 L423.46,108.58 L424.32,108.6 L425.19,108.62 L426.06,108.63 L426.92,108.65 L427.79,108.66 L428.65,108.67 L429.51,108.68 L430.38,108.68 L431.24,108.69 L432.1,108.7 L432.97,108.7 L433.83,108.7 L434.69,108.71 L435.55,108.71 L436.41,108.71 L437.27,108.71 L438.13,108.71 L439,108.7 L439.86,108.7 L440.72,108.7 L441.58,108.7 L442.44,108.69 L443.3,108.69 L444.16,108.68 L445.02,108.68 L445.88,108.67 L446.74,108.67 L447.6,108.66 L448.45,108.65 L449.31,108.65 L450.17,108.64 L451.03,108.63 L451.89,108.63 L452.75,108.62 L453.61,108.61 L454.47,108.6 L455.33,108.6 L456.19,108.59 L457.05,108.58 L457.9,108.57 L458.76,108.56 L459.62,108.55 L460.48,108.55 L461.34,108.54 L462.2,108.53 L463.06,108.52 L463.92,108.51 L464.77,108.5 L465.63,108.49 L466.49,108.48 L467.35,108.47 L468.21,108.46 L469.07,108.46 L469.93,108.46 L470.79,108.46 L471.64,108.46 L472.5,108.46 L473.36,108.46 L474.22,108.46 L475.08,108.46 L475.94,108.46 L476.79,108.46 L477.65,108.46 L478.51,108.46 L479.37,108.46 L480.23,108.46 L481.09,108.46 L481.09,103.06 L480.23,103.06 L479.37,103.06 L478.51,103.06 L477.66,103.06 L476.8,103.06 L475.94,103.06 L475.08,103.06 L474.22,103.06 L473.36,103.06 L472.5,103.06 L471.65,103.06 L470.79,103.06 L469.93,103.06 L469.07,103.06 L468.21,103.05 L467.35,103.03 L466.5,103.02 L465.64,103.01 L464.78,103 L463.92,102.99 L463.06,102.98 L462.21,102.97 L461.35,102.96 L460.49,102.95 L459.63,102.94 L458.77,102.93 L457.91,102.91 L457.06,102.9 L456.2,102.89 L455.34,102.88 L454.48,102.87 L453.62,102.85 L452.77,102.84 L451.91,102.83 L451.05,102.82 L450.19,102.8 L449.34,102.79 L448.48,102.78 L447.62,102.76 L446.76,102.75 L445.91,102.74 L445.05,102.72 L444.19,102.71 L443.34,102.69 L442.48,102.68 L441.62,102.66 L440.76,102.64 L439.91,102.63 L439.05,102.61 L438.2,102.59 L437.34,102.57 L436.48,102.55 L435.63,102.53 L434.77,102.51 L433.92,102.49 L433.06,102.47 L432.21,102.44 L431.35,102.42 L430.5,102.39 L429.65,102.36 L428.79,102.34 L427.94,102.31 L427.09,102.27 L426.24,102.24 L425.39,102.21 L424.54,102.17 L423.69,102.13 L422.84,102.09 L421.99,102.05 L421.14,102 L420.29,101.95 L419.45,101.9 L418.6,101.84 L417.76,101.79 L416.92,101.72 L416.07,101.66 L415.23,101.59 L414.39,101.51 L413.56,101.43 L412.72,101.35 L411.89,101.26 L411.05,101.16 L410.22,101.06 L409.4,100.95 L408.57,100.84 L407.74,100.71 L406.92,100.58 L406.1,100.44 L405.29,100.29 L404.47,100.13 L403.66,99.96 L402.86,99.78 L402.05,99.59 L401.25,99.38 L400.45,99.15 L399.67,98.89 L398.88,98.62 L398.1,98.34 L397.33,98.03 L396.55,97.71 L395.79,97.37 L395.02,97.02 L394.26,96.64 L393.5,96.24 L392.75,95.82 L392,95.37 L391.25,94.9 L390.5,94.4 L389.75,93.87 L389,93.31 L388.25,92.72 L387.5,92.09 L386.75,91.43 L386,90.73 L385.25,89.99 L384.49,89.22 L383.73,88.4 L382.96,87.54 L382.17,86.65 L381.37,85.72 L380.57,84.74 L379.76,83.72 L378.95,82.64 L378.14,81.52 L377.32,80.35 L376.5,79.14 L375.67,77.88 L374.84,76.59 L374.01,75.25 L373.18,73.87 L372.34,72.46 L371.49,71.02 L370.65,69.54 L369.8,68.05 L368.95,66.53 L368.1,65 L367.24,63.45 L366.39,61.9 L365.53,60.34 L364.66,58.79 L363.8,57.24 L362.92,55.7 L362.04,54.18 L361.15,52.68 L360.27,51.19 L359.38,49.74 L358.48,48.31 L357.59,46.91 L356.69,45.54 L355.79,44.21 L354.88,42.91 L353.97,41.66 L353.06,40.44 L352.14,39.27 L351.22,38.13 L350.3,37.05 L349.37,36 L348.43,35 L347.5,34.04 L346.56,33.12 L345.61,32.25 L344.67,31.42 L343.72,30.63 L342.77,29.88 L341.8,29.19 L340.83,28.54 L339.86,27.93 L338.9,27.36 L337.93,26.83 L336.96,26.33 L336,25.87 L335.04,25.43 L334.08,25.03 L333.13,24.66 L332.18,24.31 L331.23,23.99 L330.29,23.69 L329.35,23.42 L328.42,23.17 L327.49,22.94 L326.56,22.73 L325.64,22.53 L324.72,22.35 L323.81,22.19 L322.9,22.04 L322,21.88 L321.1,21.72 L320.21,21.58 L319.31,21.44 L318.42,21.31 L317.53,21.19 L316.65,21.08 L315.76,20.98 L314.88,20.88 L314,20.79 L313.12,20.71 L312.24,20.64 L311.36,20.57 L310.49,20.5Z" fill="rgba(255,0,255,0.2)" stroke="none" clip-path="url(#c4)"/>
<path d="M306.8,1.3 V194.5 H500 V1.3 Z" fill="none" stroke="#111" stroke-width="1.1"/>
<line x1="306.8" y1="194.5" x2="310.40000000000003" y2="194.5" stroke="#111" stroke-width="1"/>
<text x="303.4" y="199.1" text-anchor="end" font-size="14" >20</text>
<line x1="306.8" y1="151.5" x2="310.40000000000003" y2="151.5" stroke="#111" stroke-width="1"/>
<text x="303.4" y="156.1" text-anchor="end" font-size="14" >40</text>
<line x1="306.8" y1="108.5" x2="310.40000000000003" y2="108.5" stroke="#111" stroke-width="1"/>
<text x="303.4" y="113.1" text-anchor="end" font-size="14" >60</text>
<line x1="306.8" y1="65.5" x2="310.40000000000003" y2="65.5" stroke="#111" stroke-width="1"/>
<text x="303.4" y="70.1" text-anchor="end" font-size="14" >80</text>
<line x1="306.8" y1="22.5" x2="310.40000000000003" y2="22.5" stroke="#111" stroke-width="1"/>
<text x="303.4" y="27.1" text-anchor="end" font-size="14" >100</text>
<line x1="306.8" y1="173" x2="308.8" y2="173" stroke="#111" stroke-width="1"/>
<line x1="306.8" y1="130" x2="308.8" y2="130" stroke="#111" stroke-width="1"/>
<line x1="306.8" y1="87" x2="308.8" y2="87" stroke="#111" stroke-width="1"/>
<line x1="306.8" y1="44" x2="308.8" y2="44" stroke="#111" stroke-width="1"/>
<line x1="306.8" y1="194.5" x2="306.8" y2="190.9" stroke="#111" stroke-width="1"/>
<text x="306.8" y="208.8" text-anchor="middle" font-size="14" >0</text>
<line x1="345.44" y1="194.5" x2="345.44" y2="190.9" stroke="#111" stroke-width="1"/>
<text x="345.44" y="208.8" text-anchor="middle" font-size="14" >10</text>
<line x1="384.08" y1="194.5" x2="384.08" y2="190.9" stroke="#111" stroke-width="1"/>
<text x="384.08" y="208.8" text-anchor="middle" font-size="14" >20</text>
<line x1="422.72" y1="194.5" x2="422.72" y2="190.9" stroke="#111" stroke-width="1"/>
<text x="422.72" y="208.8" text-anchor="middle" font-size="14" >30</text>
<line x1="461.36" y1="194.5" x2="461.36" y2="190.9" stroke="#111" stroke-width="1"/>
<text x="461.36" y="208.8" text-anchor="middle" font-size="14" >40</text>
<line x1="500" y1="194.5" x2="500" y2="190.9" stroke="#111" stroke-width="1"/>
<text x="500" y="208.8" text-anchor="middle" font-size="14" >50</text>
<line x1="326.12" y1="194.5" x2="326.12" y2="192.5" stroke="#111" stroke-width="1"/>
<line x1="364.76" y1="194.5" x2="364.76" y2="192.5" stroke="#111" stroke-width="1"/>
<line x1="403.4" y1="194.5" x2="403.4" y2="192.5" stroke="#111" stroke-width="1"/>
<line x1="442.04" y1="194.5" x2="442.04" y2="192.5" stroke="#111" stroke-width="1"/>
<line x1="480.68" y1="194.5" x2="480.68" y2="192.5" stroke="#111" stroke-width="1"/>
<text x="402.9" y="227.2" text-anchor="middle" font-size="14.15" >Assumed threshold of C4%</text>
<text transform="translate(273,97.3) rotate(-90)" text-anchor="middle" font-size="14.2">Detection probability (%)</text>
<text transform="translate(256.6,12.6) scale(1.02,1.08)" font-size="17.3">(B)</text>
<polyline points="61.2,355 70,349 77.9,347.5 86,343.8 94,334.5 102.1,342.3 110.8,330.5 118.2,320.9 126.3,318.4 134.3,326.1 141.8,264.7 220.6,264.7" fill="none" stroke="#ff0000" stroke-width="2.4" stroke-linejoin="miter" stroke-miterlimit="3" stroke-linecap="round"/>
<polyline points="59.6,264.6 66.2,264.6 78.3,352 86,357.1 94,352.5 102,374.5 110.2,369.9 118.3,372 126.3,374 134.3,380.7 142.4,373.8 150.4,378.4 158.4,380.7 166.5,384.6 182.6,384.6 190.5,387.3 220.6,387.3" fill="none" stroke="#0000ff" stroke-width="2.4" stroke-linejoin="miter" stroke-miterlimit="3" stroke-linecap="round"/>
<path d="M62.31,342.26 L62.96,342.26 L63.71,342.26 L64.45,342.26 L65.19,342.26 L65.94,342.26 L66.63,342.26 L67.37,342.26 L68.11,342.26 L68.86,342.26 L69.6,342.26 L70.31,342.26 M80.51,342.24 L81.17,342.23 L81.92,342.23 L82.66,342.23 L83.4,342.22 L84.14,342.22 L84.83,342.21 L85.58,342.2 L86.32,342.2 L87.06,342.19 L87.81,342.18 L88.51,342.17 M98.7,341.84 L99.38,341.79 L100.12,341.74 L100.87,341.68 L101.56,341.61 L102.3,341.54 L103.04,341.46 L103.79,341.36 L104.48,341.27 L105.22,341.16 L105.96,341.03 L106.66,340.9 M116.19,337 L116.69,336.63 L117.22,336.21 L117.75,335.76 L118.28,335.28 L118.81,334.77 L119.39,334.17 L119.92,333.58 L120.45,332.97 L120.99,332.31 L121.52,331.61 L122.05,330.87 M127.39,321.02 L127.62,320.49 L127.94,319.75 L128.26,318.99 L128.58,318.22 L128.89,317.44 L129.16,316.78 L129.48,315.97 L129.8,315.15 L130.12,314.32 L130.43,313.48 L130.71,312.75 M134.54,302.01 L134.79,301.32 L135.05,300.57 L135.32,299.82 L135.64,298.92 L135.9,298.18 L136.17,297.44 L136.43,296.71 L136.75,295.83 L137.02,295.11 L137.28,294.4 L137.58,293.6 M141.97,283.15 L142.33,282.43 L142.75,281.6 L143.12,280.89 L143.55,280.11 L143.97,279.36 L144.34,278.73 L144.77,278.03 L145.19,277.36 L145.56,276.79 L145.99,276.18 L146.41,275.59 M154.37,268.51 L155.01,268.19 L155.7,267.88 L156.39,267.6 L157.14,267.32 L157.83,267.08 L158.52,266.87 L159.21,266.68 L159.95,266.49 L160.64,266.33 L161.33,266.19 L162.04,266.05 M172.2,265.09 L172.85,265.07 L173.59,265.04 L174.34,265.02 L175.08,265 L175.82,264.98 L176.51,264.96 L177.25,264.95 L178,264.93 L178.74,264.92 L179.48,264.91 L180.2,264.9 M190.4,264.83 L191.06,264.83 L191.8,264.83 L192.54,264.83 L193.29,264.83 L194.03,264.82 L194.72,264.82 L195.46,264.82 L196.21,264.82 L196.95,264.82 L197.69,264.82 L198.4,264.82 M208.6,264.81 L209.26,264.81 L210.01,264.81 L210.75,264.81 L211.49,264.81 L212.24,264.81 L212.93,264.81 L213.67,264.81 L214.41,264.81 L215.16,264.81 L215.9,264.81 L216.6,264.81" fill="none" stroke="#ff0000" stroke-width="2.4" stroke-linecap="butt" stroke-linejoin="round"/>
<path d="M60.49,266.92 L60.89,267.17 L61.31,267.49 L61.8,267.89 L62.22,268.3 L62.65,268.75 L63.13,269.33 L63.56,269.92 L63.99,270.57 L64.47,271.4 L64.9,272.22 L65.36,273.21 M68.18,282.39 L68.28,282.79 L68.44,283.51 L68.54,284 L68.7,284.77 L68.86,285.55 L68.97,286.09 L69.13,286.92 L69.29,287.77 L69.4,288.35 L69.56,289.23 L69.69,289.99 M71.17,299.42 L71.17,299.43 L71.27,300.19 L71.38,300.95 L71.49,301.73 L71.6,302.51 L71.7,303.31 L71.81,304.11 L71.92,304.92 L72.02,305.73 L72.13,306.56 L72.2,307.09 M73.38,316.55 L73.42,316.87 L73.52,317.75 L73.58,318.19 L73.68,319.08 L73.79,319.97 L73.84,320.41 L73.95,321.3 L74.06,322.19 L74.11,322.63 L74.22,323.52 L74.3,324.23 M75.47,333.69 L75.5,333.98 L75.61,334.82 L75.72,335.65 L75.83,336.48 L75.93,337.31 L75.99,337.72 L76.09,338.53 L76.2,339.33 L76.31,340.13 L76.42,340.92 L76.48,341.36 M77.88,350.79 L77.97,351.31 L78.08,351.95 L78.24,352.89 L78.34,353.5 L78.5,354.39 L78.61,354.98 L78.77,355.84 L78.88,356.39 L79.04,357.21 L79.15,357.74 L79.28,358.41 M81.76,367.68 L82.04,368.44 L82.41,369.38 L82.73,370.12 L83.11,370.91 L83.48,371.63 L83.81,372.19 L84.18,372.79 L84.55,373.33 L84.88,373.76 L85.25,374.21 L85.59,374.57 M95.34,378.04 L96.12,378.09 L96.93,378.12 L97.73,378.15 L98.53,378.17 L99.33,378.19 L100.14,378.21 L100.94,378.22 L101.74,378.23 L102.55,378.23 L103.35,378.24 L104.13,378.24 M114.98,378.26 L115.78,378.26 L116.58,378.26 L117.38,378.26 L118.18,378.26 L118.99,378.26 L119.79,378.26 L120.59,378.26 L121.4,378.26 L122.2,378.26 L123,378.26 L123.78,378.26 M134.63,378.26 L135.43,378.26 L136.23,378.26 L137.04,378.26 L137.84,378.26 L138.64,378.26 L139.44,378.26 L140.25,378.26 L141.05,378.26 L141.85,378.26 L142.66,378.26 L143.43,378.26 M154.28,378.26 L155.08,378.26 L155.89,378.26 L156.69,378.26 L157.49,378.26 L158.29,378.26 L159.1,378.26 L159.9,378.26 L160.7,378.26 L161.51,378.26 L162.31,378.26 L163.08,378.26 M173.93,378.26 L174.68,378.26 L175.48,378.26 L176.29,378.26 L177.09,378.26 L177.89,378.26 L178.7,378.26 L179.5,378.26 L180.3,378.26 L181.11,378.26 L181.91,378.26 L182.73,378.26 M193.58,378.26 L194.33,378.26 L195.14,378.26 L195.94,378.26 L196.74,378.26 L197.55,378.26 L198.35,378.26 L199.15,378.26 L199.96,378.26 L200.76,378.26 L201.56,378.26 L202.38,378.26 M213.23,378.26 L213.77,378.26 L214.42,378.26 L215.06,378.26 L215.7,378.26 L216.34,378.26 L216.99,378.26 L217.63,378.26 L218.27,378.26 L218.91,378.26 L219.56,378.26 L220.2,378.26" fill="none" stroke="#0000ff" stroke-width="2.4" stroke-linecap="butt" stroke-linejoin="round"/>
<clipPath id="c5"><rect x="59.6" y="0" width="160.6" height="473"/></clipPath>
<path d="M47.56,267.31 L48.48,267.32 L49.39,267.34 L50.3,267.37 L51.2,267.4 L52.09,267.45 L52.98,267.51 L53.85,267.58 L54.7,267.68 L55.53,267.8 L56.33,267.96 L57.1,268.15 L57.84,268.39 L58.55,268.7 L59.23,269.09 L59.9,269.59 L60.58,270.25 L61.3,271.15 L62.06,272.35 L62.86,273.97 L63.7,276.09 L64.58,278.82 L65.48,282.23 L66.39,286.42 L67.3,291.41 L68.22,297.22 L69.14,303.77 L70.05,310.93 L70.94,318.49 L71.84,326.18 L72.74,333.72 L73.64,340.86 L74.54,347.41 L75.41,353.23 L76.17,358.31 L76.95,362.65 L77.74,366.3 L78.56,369.37 L79.43,371.95 L80.37,374.14 L81.47,375.96 L82.69,377.46 L83.96,378.69 L85.28,379.68 L86.59,380.44 L87.86,381.03 L89.09,381.48 L90.27,381.82 L91.4,382.08 L92.49,382.29 L93.55,382.46 L94.57,382.59 L95.58,382.66 L96.57,382.71 L97.54,382.75 L98.51,382.78 L99.46,382.8 L100.41,382.81 L101.35,382.82 L102.29,382.83 L103.23,382.84 L104.16,382.84 L105.1,382.85 L106.03,382.85 L106.96,382.85 L107.89,382.86 L108.82,382.86 L109.75,382.86 L110.68,382.86 L111.6,382.86 L112.53,382.86 L113.46,382.86 L114.39,382.86 L115.32,382.86 L116.24,382.86 L117.17,382.86 L118.1,382.86 L119.03,382.86 L119.96,382.86 L120.88,382.86 L121.81,382.86 L122.74,382.86 L123.67,382.86 L124.59,382.86 L125.52,382.86 L126.45,382.86 L127.38,382.86 L128.3,382.86 L129.23,382.86 L130.16,382.86 L131.09,382.86 L132.02,382.86 L132.94,382.86 L133.87,382.86 L134.8,382.86 L135.73,382.86 L136.65,382.86 L137.58,382.86 L138.51,382.86 L139.44,382.86 L140.36,382.86 L141.29,382.86 L142.22,382.86 L143.15,382.86 L144.07,382.86 L145,382.86 L145.93,382.86 L146.86,382.86 L147.78,382.86 L148.71,382.86 L149.64,382.86 L150.57,382.86 L151.5,382.86 L152.42,382.86 L153.35,382.86 L154.28,382.86 L155.21,382.86 L156.13,382.86 L157.06,382.86 L157.99,382.86 L158.92,382.86 L159.84,382.86 L160.77,382.86 L161.7,382.86 L162.63,382.86 L163.55,382.86 L164.48,382.86 L165.41,382.86 L166.34,382.86 L167.27,382.86 L168.19,382.86 L169.12,382.86 L170.05,382.86 L170.98,382.86 L171.9,382.86 L172.83,382.86 L173.76,382.86 L174.69,382.86 L175.61,382.86 L176.54,382.86 L177.47,382.86 L178.4,382.86 L179.32,382.86 L180.25,382.86 L181.18,382.86 L182.11,382.86 L183.04,382.86 L183.96,382.86 L184.89,382.86 L185.82,382.86 L186.75,382.86 L187.67,382.86 L188.6,382.86 L189.53,382.86 L190.46,382.86 L191.38,382.86 L192.31,382.86 L193.24,382.86 L194.17,382.86 L195.09,382.86 L196.02,382.86 L196.95,382.86 L197.88,382.86 L198.81,382.86 L199.73,382.86 L200.66,382.86 L201.59,382.86 L202.52,382.86 L203.44,382.86 L204.37,382.86 L205.3,382.86 L206.23,382.86 L207.15,382.86 L208.08,382.86 L209.01,382.86 L209.94,382.86 L210.86,382.86 L211.79,382.86 L212.72,382.86 L213.65,382.86 L214.57,382.86 L215.5,382.86 L216.43,382.86 L217.36,382.86 L218.29,382.86 L219.21,382.86 L220.14,382.86 L221.07,382.86 L222,382.86 L222.92,382.86 L223.85,382.86 L224.78,382.86 L225.71,382.86 L226.63,382.86 L227.56,382.86 L228.49,382.86 L229.42,382.86 L230.34,382.86 L231.27,382.86 L232.2,382.86 L232.2,373.66 L231.27,373.66 L230.34,373.66 L229.42,373.66 L228.49,373.66 L227.56,373.66 L226.63,373.66 L225.71,373.66 L224.78,373.66 L223.85,373.66 L222.92,373.66 L222,373.66 L221.07,373.66 L220.14,373.66 L219.21,373.66 L218.29,373.66 L217.36,373.66 L216.43,373.66 L215.5,373.66 L214.57,373.66 L213.65,373.66 L212.72,373.66 L211.79,373.66 L210.86,373.66 L209.94,373.66 L209.01,373.66 L208.08,373.66 L207.15,373.66 L206.23,373.66 L205.3,373.66 L204.37,373.66 L203.44,373.66 L202.52,373.66 L201.59,373.66 L200.66,373.66 L199.73,373.66 L198.81,373.66 L197.88,373.66 L196.95,373.66 L196.02,373.66 L195.09,373.66 L194.17,373.66 L193.24,373.66 L192.31,373.66 L191.38,373.66 L190.46,373.66 L189.53,373.66 L188.6,373.66 L187.67,373.66 L186.75,373.66 L185.82,373.66 L184.89,373.66 L183.96,373.66 L183.04,373.66 L182.11,373.66 L181.18,373.66 L180.25,373.66 L179.32,373.66 L178.4,373.66 L177.47,373.66 L176.54,373.66 L175.61,373.66 L174.69,373.66 L173.76,373.66 L172.83,373.66 L171.9,373.66 L170.98,373.66 L170.05,373.66 L169.12,373.66 L168.19,373.66 L167.27,373.66 L166.34,373.66 L165.41,373.66 L164.48,373.66 L163.55,373.66 L162.63,373.66 L161.7,373.66 L160.77,373.66 L159.84,373.66 L158.92,373.66 L157.99,373.66 L157.06,373.66 L156.13,373.66 L155.21,373.66 L154.28,373.66 L153.35,373.66 L152.42,373.66 L151.5,373.66 L150.57,373.66 L149.64,373.66 L148.71,373.66 L147.78,373.66 L146.86,373.66 L145.93,373.66 L145,373.66 L144.07,373.66 L143.15,373.66 L142.22,373.66 L141.29,373.66 L140.36,373.66 L139.44,373.66 L138.51,373.66 L137.58,373.66 L136.65,373.66 L135.73,373.66 L134.8,373.66 L133.87,373.66 L132.94,373.66 L132.02,373.66 L131.09,373.66 L130.16,373.66 L129.23,373.66 L128.3,373.66 L127.38,373.66 L126.45,373.66 L125.52,373.66 L124.59,373.66 L123.67,373.66 L122.74,373.66 L121.81,373.66 L120.88,373.66 L119.96,373.66 L119.03,373.66 L118.1,373.66 L117.17,373.66 L116.25,373.66 L115.32,373.66 L114.39,373.66 L113.46,373.66 L112.54,373.66 L111.61,373.66 L110.68,373.66 L109.76,373.66 L108.83,373.66 L107.9,373.66 L106.98,373.65 L106.05,373.65 L105.13,373.65 L104.21,373.64 L103.29,373.64 L102.37,373.63 L101.45,373.62 L100.54,373.61 L99.64,373.6 L98.73,373.58 L97.84,373.55 L96.96,373.52 L96.1,373.48 L95.25,373.43 L94.42,373.41 L93.62,373.37 L92.85,373.32 L92.13,373.23 L91.45,373.12 L90.82,372.98 L90.25,372.79 L89.7,372.56 L89.16,372.24 L88.58,371.79 L87.94,371.12 L87.19,370.14 L86.27,368.79 L85.29,366.89 L84.25,364.37 L83.19,361.13 L82.11,357.11 L81.01,352.26 L80.03,346.57 L79.08,340.12 L78.12,333.04 L77.17,325.53 L76.21,317.85 L75.25,310.28 L74.3,303.08 L73.36,296.45 L72.43,290.54 L71.49,285.4 L70.54,281.03 L69.58,277.37 L68.6,274.34 L67.59,271.85 L66.54,269.81 L65.44,268.14 L64.31,266.79 L63.13,265.71 L61.95,264.86 L60.77,264.22 L59.62,263.72 L58.5,263.35 L57.42,263.08 L56.37,262.87 L55.34,262.72 L54.34,262.61 L53.36,262.52 L52.38,262.46 L51.42,262.41 L50.47,262.37 L49.52,262.34 L48.58,262.32 L47.64,262.31Z" fill="rgba(255,0,255,0.2)" stroke="none" clip-path="url(#c5)"/>
<clipPath id="c6"><rect x="61.5" y="0" width="158.7" height="473"/></clipPath>
<path d="M49.5,349.67 L50.42,349.67 L51.34,349.67 L52.25,349.67 L53.17,349.67 L54.09,349.67 L55.01,349.67 L55.93,349.67 L56.85,349.66 L57.76,349.66 L58.68,349.66 L59.6,349.66 L60.52,349.66 L61.44,349.66 L62.36,349.66 L63.27,349.66 L64.19,349.66 L65.11,349.66 L66.03,349.66 L66.95,349.66 L67.87,349.66 L68.79,349.66 L69.7,349.66 L70.62,349.66 L71.54,349.66 L72.46,349.66 L73.38,349.66 L74.3,349.65 L75.22,349.65 L76.14,349.65 L77.06,349.65 L77.98,349.65 L78.9,349.64 L79.83,349.64 L80.75,349.64 L81.67,349.63 L82.6,349.63 L83.52,349.62 L84.44,349.61 L85.37,349.61 L86.3,349.6 L87.23,349.59 L88.16,349.57 L89.09,349.56 L90.02,349.55 L90.96,349.53 L91.9,349.51 L92.84,349.49 L93.79,349.46 L94.74,349.43 L95.69,349.39 L96.65,349.36 L97.62,349.31 L98.59,349.26 L99.57,349.2 L100.56,349.13 L101.55,349.03 L102.56,348.92 L103.58,348.8 L104.61,348.66 L105.65,348.5 L106.71,348.32 L107.79,348.11 L108.89,347.87 L110.01,347.59 L111.14,347.28 L112.3,346.91 L113.48,346.5 L114.67,346.02 L115.87,345.43 L117.07,344.76 L118.27,344.01 L119.47,343.18 L120.66,342.26 L121.84,341.24 L122.99,340.12 L124.13,338.9 L125.23,337.58 L126.3,336.16 L127.35,334.63 L128.37,332.99 L129.36,331.24 L130.33,329.38 L131.28,327.41 L132.22,325.32 L133.14,323.13 L134.04,320.83 L134.94,318.43 L135.83,315.95 L136.71,313.41 L137.58,310.81 L138.48,308.19 L139.37,305.56 L140.25,302.95 L141.13,300.37 L142,297.86 L142.87,295.42 L143.72,293.09 L144.58,290.87 L145.41,288.78 L146.23,286.83 L147.03,285.01 L147.82,283.35 L148.6,281.83 L149.36,280.46 L150.11,279.23 L150.85,278.13 L151.56,277.15 L152.25,276.26 L152.91,275.46 L153.57,274.74 L154.23,274.09 L154.89,273.51 L155.55,272.98 L156.23,272.49 L156.91,272.04 L157.61,271.63 L158.33,271.25 L159.07,270.9 L159.82,270.54 L160.58,270.19 L161.37,269.87 L162.17,269.56 L162.98,269.27 L163.81,269 L164.66,268.75 L165.51,268.5 L166.38,268.27 L167.25,268.05 L168.13,267.84 L169.01,267.67 L169.91,267.52 L170.8,267.37 L171.7,267.23 L172.6,267.09 L173.51,266.96 L174.41,266.83 L175.32,266.7 L176.23,266.58 L177.15,266.46 L178.06,266.35 L178.97,266.23 L179.89,266.12 L180.8,266.08 L181.72,266.07 L182.63,266.05 L183.55,266.03 L184.47,266.01 L185.38,266 L186.3,265.99 L187.22,265.97 L188.14,265.96 L189.05,265.95 L189.97,265.93 L190.89,265.92 L191.81,265.91 L192.72,265.9 L193.64,265.89 L194.56,265.88 L195.48,265.87 L196.4,265.86 L197.31,265.85 L198.23,265.84 L199.15,265.83 L200.07,265.82 L200.99,265.81 L201.9,265.8 L202.82,265.79 L203.74,265.78 L204.66,265.77 L205.58,265.76 L206.49,265.75 L207.41,265.74 L208.33,265.73 L209.25,265.72 L210.17,265.71 L211.08,265.7 L212,265.69 L212.92,265.68 L213.84,265.68 L214.76,265.67 L215.67,265.66 L216.59,265.65 L217.51,265.64 L218.43,265.63 L219.35,265.62 L220.26,265.61 L221.18,265.61 L222.1,265.61 L223.02,265.61 L223.94,265.61 L224.86,265.61 L225.77,265.61 L226.69,265.61 L227.61,265.61 L228.53,265.61 L229.45,265.61 L230.36,265.61 L231.28,265.61 L232.2,265.61 L232.2,264.01 L231.28,264.01 L230.36,264.01 L229.45,264.01 L228.53,264.01 L227.61,264.01 L226.69,264.01 L225.77,264.01 L224.86,264.01 L223.94,264.01 L223.02,264.01 L222.1,264.01 L221.18,264.01 L220.26,264.01 L219.35,264 L218.43,263.99 L217.51,263.97 L216.59,263.95 L215.67,263.94 L214.76,263.92 L213.84,263.91 L212.92,263.89 L212,263.87 L211.08,263.86 L210.17,263.84 L209.25,263.83 L208.33,263.81 L207.41,263.79 L206.49,263.78 L205.58,263.76 L204.66,263.75 L203.74,263.73 L202.82,263.72 L201.9,263.7 L200.98,263.68 L200.07,263.67 L199.15,263.65 L198.23,263.64 L197.31,263.62 L196.39,263.61 L195.47,263.59 L194.56,263.58 L193.64,263.56 L192.72,263.55 L191.8,263.54 L190.88,263.52 L189.96,263.51 L189.05,263.5 L188.13,263.48 L187.21,263.47 L186.29,263.46 L185.37,263.45 L184.45,263.44 L183.53,263.43 L182.61,263.42 L181.69,263.41 L180.77,263.41 L179.85,263.38 L178.92,263.24 L178,263.11 L177.07,262.97 L176.15,262.84 L175.22,262.71 L174.29,262.58 L173.35,262.46 L172.42,262.34 L171.48,262.22 L170.53,262.12 L169.58,262.02 L168.63,261.92 L167.66,261.84 L166.69,261.73 L165.71,261.64 L164.72,261.56 L163.71,261.5 L162.69,261.46 L161.65,261.43 L160.59,261.44 L159.52,261.47 L158.41,261.55 L157.28,261.66 L156.13,261.83 L154.98,262.13 L153.8,262.49 L152.61,262.92 L151.39,263.43 L150.16,264.02 L148.92,264.7 L147.68,265.48 L146.43,266.37 L145.19,267.36 L143.97,268.47 L142.78,269.71 L141.69,271.12 L140.63,272.64 L139.59,274.27 L138.57,276.01 L137.57,277.87 L136.6,279.84 L135.64,281.92 L134.69,284.12 L133.72,286.4 L132.73,288.77 L131.75,291.23 L130.78,293.75 L129.82,296.32 L128.86,298.92 L127.9,301.53 L126.96,304.11 L126.01,306.66 L124.96,309.09 L123.89,311.43 L122.84,313.66 L121.79,315.76 L120.76,317.71 L119.75,319.52 L118.76,321.15 L117.79,322.62 L116.85,323.92 L115.94,325.05 L115.07,326.02 L114.42,326.98 L113.8,327.81 L113.21,328.53 L112.65,329.16 L112.1,329.71 L111.57,330.19 L111.05,330.61 L110.52,331 L109.99,331.35 L109.45,331.67 L108.88,331.97 L108.3,332.24 L107.68,332.5 L107.04,332.74 L106.38,332.96 L105.69,333.17 L104.97,333.36 L104.23,333.54 L103.47,333.71 L102.7,333.86 L101.9,334 L101.09,334.13 L100.27,334.25 L99.43,334.37 L98.59,334.43 L97.73,334.48 L96.86,334.53 L95.99,334.57 L95.12,334.61 L94.23,334.64 L93.35,334.67 L92.46,334.69 L91.56,334.71 L90.67,334.73 L89.77,334.75 L88.87,334.76 L87.96,334.78 L87.06,334.79 L86.15,334.8 L85.24,334.81 L84.33,334.81 L83.42,334.82 L82.51,334.83 L81.59,334.83 L80.68,334.84 L79.77,334.84 L78.85,334.84 L77.94,334.85 L77.02,334.85 L76.11,334.85 L75.19,334.85 L74.28,334.85 L73.36,334.86 L72.44,334.86 L71.53,334.86 L70.61,334.86 L69.69,334.86 L68.77,334.86 L67.86,334.86 L66.94,334.86 L66.02,334.86 L65.1,334.86 L64.19,334.86 L63.27,334.86 L62.35,334.86 L61.43,334.86 L60.52,334.86 L59.6,334.86 L58.68,334.86 L57.76,334.86 L56.84,334.86 L55.93,334.87 L55.01,334.87 L54.09,334.87 L53.17,334.87 L52.25,334.87 L51.34,334.87 L50.42,334.87 L49.5,334.87Z" fill="rgba(255,0,255,0.2)" stroke="none" clip-path="url(#c6)"/>
<path d="M45.5,243.5 V436.5 H239 V243.5 Z" fill="none" stroke="#111" stroke-width="1.1"/>
<line x1="45.5" y1="436.5" x2="49.1" y2="436.5" stroke="#111" stroke-width="1"/>
<text x="41.2" y="441.1" text-anchor="end" font-size="14" >20</text>
<line x1="45.5" y1="393.56" x2="49.1" y2="393.56" stroke="#111" stroke-width="1"/>
<text x="41.2" y="398.16" text-anchor="end" font-size="14" >40</text>
<line x1="45.5" y1="350.62" x2="49.1" y2="350.62" stroke="#111" stroke-width="1"/>
<text x="41.2" y="355.22" text-anchor="end" font-size="14" >60</text>
<line x1="45.5" y1="307.68" x2="49.1" y2="307.68" stroke="#111" stroke-width="1"/>
<text x="41.2" y="312.28" text-anchor="end" font-size="14" >80</text>
<line x1="45.5" y1="264.74" x2="49.1" y2="264.74" stroke="#111" stroke-width="1"/>
<text x="41.2" y="269.34" text-anchor="end" font-size="14" >100</text>
<line x1="45.5" y1="415.03" x2="47.5" y2="415.03" stroke="#111" stroke-width="1"/>
<line x1="45.5" y1="372.09" x2="47.5" y2="372.09" stroke="#111" stroke-width="1"/>
<line x1="45.5" y1="329.15" x2="47.5" y2="329.15" stroke="#111" stroke-width="1"/>
<line x1="45.5" y1="286.21" x2="47.5" y2="286.21" stroke="#111" stroke-width="1"/>
<line x1="45.6" y1="436.5" x2="45.6" y2="432.9" stroke="#111" stroke-width="1"/>
<text x="45.6" y="452.4" text-anchor="middle" font-size="14" >0</text>
<line x1="77.82" y1="436.5" x2="77.82" y2="432.9" stroke="#111" stroke-width="1"/>
<text x="77.82" y="452.4" text-anchor="middle" font-size="14" >2</text>
<line x1="110.04" y1="436.5" x2="110.04" y2="432.9" stroke="#111" stroke-width="1"/>
<text x="110.04" y="452.4" text-anchor="middle" font-size="14" >4</text>
<line x1="142.26" y1="436.5" x2="142.26" y2="432.9" stroke="#111" stroke-width="1"/>
<text x="142.26" y="452.4" text-anchor="middle" font-size="14" >6</text>
<line x1="174.48" y1="436.5" x2="174.48" y2="432.9" stroke="#111" stroke-width="1"/>
<text x="174.48" y="452.4" text-anchor="middle" font-size="14" >8</text>
<line x1="206.7" y1="436.5" x2="206.7" y2="432.9" stroke="#111" stroke-width="1"/>
<text x="206.7" y="452.4" text-anchor="middle" font-size="14" >10</text>
<line x1="238.92" y1="436.5" x2="238.92" y2="432.9" stroke="#111" stroke-width="1"/>
<text x="238.92" y="452.4" text-anchor="middle" font-size="14" >12</text>
<line x1="61.71" y1="436.5" x2="61.71" y2="434.5" stroke="#111" stroke-width="1"/>
<line x1="93.93" y1="436.5" x2="93.93" y2="434.5" stroke="#111" stroke-width="1"/>
<line x1="126.15" y1="436.5" x2="126.15" y2="434.5" stroke="#111" stroke-width="1"/>
<line x1="158.37" y1="436.5" x2="158.37" y2="434.5" stroke="#111" stroke-width="1"/>
<line x1="190.59" y1="436.5" x2="190.59" y2="434.5" stroke="#111" stroke-width="1"/>
<line x1="222.81" y1="436.5" x2="222.81" y2="434.5" stroke="#111" stroke-width="1"/>
<text x="141.75" y="472" text-anchor="middle" font-size="14.15" >Assumed threshold of HIX</text>
<text transform="translate(14.3,339.7) rotate(-90)" text-anchor="middle" font-size="14.2">Detection probability (%)</text>
<text transform="translate(0.5,255.8) scale(1.02,1.08)" font-size="17.3">(C)</text>
<polyline points="339.2,371.1 342.8,367 350.4,367 354,368.5 357.1,366.5 359.1,362.9 361.7,361.9 364.7,362.9 367.8,359.3 370.9,357.3 372.4,354.7 375.5,354.7 377,351.1 378.9,344.5 381,343.5 383,338.9 385.1,344.5 388.1,347.6 390.7,349.6 393.2,343.5 395.4,339 399.1,347 402.2,327.6 406.2,332.7 410.3,332.7 413.4,327.6 417,321.5 419.5,324.5 422.6,324.5 425.1,312.8 427.7,314.8 431.8,324 433.5,308 435.3,289.6 438.5,289.4 440.3,267.6 487.6,267.6" fill="none" stroke="#ff0000" stroke-width="2.4" stroke-linejoin="miter" stroke-miterlimit="3" stroke-linecap="round"/>
<polyline points="338.7,267.8 351.5,267.8 352.4,345 353.2,348.5 355.5,364.4 358.5,336.9 360,335.3 362.1,327.7 363.6,331.2 365.1,347.6 367.7,333.8 368.7,347.6 370.8,337.4 372.8,335.8 375.4,336.3 377.4,326.1 379.5,321 380.5,328.2 382.5,330.2 384.6,331.2 385.7,353.2 387,367 389.7,367.5 392.8,380.8 395.3,373.6 399.4,388.9 402.3,380.8 405.8,385.1 409.5,385.9 412.4,390.2 416.8,390.2 421.9,393.2 424.8,390.2 429.2,393.2 432.8,395.4 435.8,391.7 440.9,391.7 446,393.9 448.9,398.3 451.8,401.9 468.6,401.9 471.5,404.8 487.6,405.9" fill="none" stroke="#0000ff" stroke-width="2.4" stroke-linejoin="miter" stroke-miterlimit="3" stroke-linecap="round"/>
<path d="M338.7,360.13 L339.35,360.12 L339.99,360.11 L340.64,360.09 L341.28,360.08 L341.93,360.07 L342.57,360.05 L343.22,360.04 L343.86,360.02 L344.51,360.01 L345.15,359.99 L345.77,359.97 M354.71,359.63 L355.38,359.59 L356.08,359.55 L356.77,359.51 L357.47,359.47 L358.16,359.42 L358.86,359.37 L359.55,359.32 L360.25,359.27 L360.94,359.21 L361.64,359.15 L362.3,359.09 M371.21,357.97 L371.82,357.87 L372.51,357.74 L373.21,357.61 L373.9,357.47 L374.6,357.32 L375.24,357.18 L375.94,357.02 L376.63,356.86 L377.33,356.68 L378.02,356.5 L378.69,356.31 M387.25,353.08 L387.8,352.81 L388.45,352.47 L389.04,352.15 L389.69,351.79 L390.34,351.42 L390.93,351.06 L391.58,350.66 L392.22,350.25 L392.82,349.85 L393.46,349.4 L394.08,348.96 M401.38,342.49 L401.85,341.98 L402.35,341.45 L402.85,340.89 L403.34,340.33 L403.84,339.76 L404.39,339.11 L404.88,338.51 L405.38,337.9 L405.88,337.28 L406.37,336.65 L406.89,335.97 M412.77,327.54 L413.13,327 L413.57,326.3 L413.97,325.67 L414.42,324.96 L414.86,324.25 L415.26,323.61 L415.71,322.88 L416.15,322.16 L416.55,321.5 L417,320.77 L417.44,320.04 M422.78,311.06 L423.15,310.44 L423.6,309.69 L424,309.03 L424.45,308.28 L424.84,307.63 L425.29,306.89 L425.69,306.24 L426.13,305.51 L426.53,304.86 L426.98,304.14 L427.38,303.5 M433.1,294.9 L433.53,294.3 L434.03,293.63 L434.52,292.96 L435.02,292.3 L435.52,291.66 L435.96,291.09 L436.46,290.46 L436.96,289.85 L437.45,289.25 L437.95,288.66 L438.42,288.12 M445.43,281.19 L445.99,280.73 L446.59,280.26 L447.18,279.8 L447.83,279.32 L448.43,278.9 L449.02,278.48 L449.62,278.08 L450.26,277.67 L450.86,277.29 L451.45,276.93 L452.07,276.58 M460.49,272.82 L461.09,272.62 L461.78,272.4 L462.48,272.19 L463.12,272 L463.82,271.81 L464.51,271.62 L465.21,271.45 L465.85,271.29 L466.55,271.13 L467.24,270.98 L467.92,270.84 M476.8,269.47 L477.47,269.4 L478.17,269.33 L478.86,269.26 L479.56,269.2 L480.25,269.14 L480.95,269.08 L481.64,269.02 L482.34,268.97 L483.03,268.92 L483.73,268.87 L484.38,268.83" fill="none" stroke="#ff0000" stroke-width="2.4" stroke-linecap="butt" stroke-linejoin="round"/>
<path d="M339.31,288.44 L339.79,288.92 L340.29,289.44 L340.79,289.95 L341.33,290.53 L341.83,291.07 L342.32,291.61 L342.82,292.17 L343.37,292.78 L343.86,293.35 L344.36,293.93 L344.9,294.57 M350.81,302.17 L351.16,302.66 L351.61,303.28 L352.06,303.91 L352.5,304.55 L352.95,305.19 L353.4,305.84 L353.84,306.49 L354.29,307.15 L354.74,307.81 L355.18,308.49 L355.63,309.16 M360.86,317.43 L361.24,318.05 L361.64,318.7 L362.04,319.36 L362.43,320.02 L362.83,320.68 L363.28,321.43 L363.67,322.09 L364.07,322.76 L364.47,323.43 L364.87,324.11 L365.28,324.8 M370.23,333.31 L370.62,333.98 L371.02,334.67 L371.42,335.35 L371.82,336.04 L372.21,336.72 L372.61,337.4 L373.01,338.08 L373.41,338.76 L373.8,339.44 L374.2,340.12 L374.57,340.75 M379.62,349.18 L380.01,349.82 L380.41,350.46 L380.85,351.18 L381.25,351.81 L381.7,352.53 L382.09,353.15 L382.54,353.86 L382.94,354.48 L383.38,355.17 L383.78,355.78 L384.19,356.41 M389.71,364.41 L390.14,364.99 L390.63,365.66 L391.08,366.26 L391.58,366.91 L392.02,367.49 L392.52,368.13 L392.97,368.7 L393.46,369.32 L393.91,369.88 L394.41,370.48 L394.87,371.05 M401.27,378.06 L401.81,378.58 L402.35,379.11 L402.9,379.63 L403.44,380.14 L403.99,380.64 L404.59,381.17 L405.13,381.65 L405.68,382.12 L406.22,382.58 L406.77,383.03 L407.34,383.5 M414.83,388.74 L415.41,389.08 L416.05,389.46 L416.7,389.82 L417.35,390.18 L417.99,390.53 L418.59,390.84 L419.23,391.17 L419.88,391.49 L420.52,391.8 L421.17,392.1 L421.79,392.38 M430.08,395.52 L430.7,395.71 L431.4,395.92 L432.04,396.11 L432.74,396.31 L433.43,396.49 L434.08,396.67 L434.77,396.84 L435.47,397.02 L436.11,397.17 L436.81,397.33 L437.49,397.49 M446.09,399.06 L446.74,399.16 L447.43,399.26 L448.13,399.35 L448.82,399.44 L449.52,399.53 L450.21,399.62 L450.91,399.7 L451.6,399.78 L452.3,399.86 L452.99,399.94 L453.65,400.01 M462.33,400.74 L462.97,400.78 L463.67,400.82 L464.36,400.87 L465.06,400.91 L465.75,400.95 L466.45,400.99 L467.14,401.03 L467.84,401.06 L468.53,401.1 L469.23,401.13 L469.92,401.16 M478.61,401.49 L479.26,401.51 L479.95,401.53 L480.65,401.55 L481.34,401.57 L482.04,401.59 L482.73,401.61 L483.43,401.62 L484.12,401.64 L484.82,401.66 L485.51,401.67 L486.21,401.69" fill="none" stroke="#0000ff" stroke-width="2.4" stroke-linecap="butt" stroke-linejoin="round"/>
<clipPath id="c7"><rect x="338.7" y="0" width="148.9" height="473"/></clipPath>
<path d="M324.52,281.53 L325.37,282.08 L326.18,282.63 L327,283.19 L327.82,283.78 L328.64,284.39 L329.46,285.01 L330.28,285.66 L331.1,286.33 L331.92,287.02 L332.74,287.74 L333.57,288.48 L334.39,289.24 L335.22,290.02 L336.06,290.82 L336.91,291.64 L337.75,292.48 L338.6,293.35 L339.45,294.25 L340.3,295.17 L341.15,296.12 L342,297.09 L342.86,298.09 L343.72,299.12 L344.57,300.17 L345.43,301.25 L346.3,302.35 L347.16,303.48 L348.02,304.64 L348.89,305.81 L349.76,307.02 L350.62,308.24 L351.49,309.49 L352.37,310.76 L353.24,312.05 L354.11,313.36 L354.98,314.69 L355.86,316.05 L356.74,317.41 L357.6,318.81 L358.46,320.22 L359.32,321.64 L360.19,323.08 L361.05,324.53 L361.91,325.99 L362.78,327.46 L363.65,328.94 L364.51,330.43 L365.38,331.92 L366.25,333.41 L367.11,334.91 L367.98,336.41 L368.85,337.9 L369.72,339.4 L370.6,340.89 L371.47,342.38 L372.34,343.87 L373.21,345.34 L374.09,346.81 L374.96,348.27 L375.84,349.71 L376.72,351.15 L377.59,352.57 L378.46,353.99 L379.32,355.39 L380.19,356.77 L381.06,358.13 L381.93,359.48 L382.81,360.81 L383.68,362.12 L384.56,363.41 L385.43,364.67 L386.31,365.92 L387.19,367.14 L388.07,368.35 L388.95,369.53 L389.83,370.68 L390.71,371.81 L391.6,372.92 L392.49,374.01 L393.38,375.07 L394.26,376.11 L395.16,377.12 L396.05,378.11 L396.94,379.07 L397.84,380.01 L398.74,380.93 L399.64,381.82 L400.54,382.69 L401.44,383.53 L402.35,384.35 L403.25,385.15 L404.16,385.92 L405.07,386.67 L405.98,387.4 L406.89,388.11 L407.8,388.8 L408.71,389.46 L409.63,390.11 L410.54,390.73 L411.45,391.33 L412.37,391.92 L413.29,392.48 L414.2,393.03 L415.12,393.55 L416.03,394.06 L416.95,394.55 L417.87,395.03 L418.78,395.48 L419.7,395.92 L420.62,396.35 L421.53,396.76 L422.45,397.15 L423.36,397.53 L424.28,397.9 L425.19,398.25 L426.1,398.59 L427.02,398.92 L427.93,399.23 L428.84,399.53 L429.75,399.82 L430.66,400.09 L431.57,400.35 L432.48,400.6 L433.39,400.84 L434.3,401.07 L435.2,401.29 L436.11,401.51 L437.01,401.71 L437.91,401.91 L438.81,402.1 L439.71,402.28 L440.61,402.45 L441.51,402.62 L442.41,402.78 L443.31,402.93 L444.2,403.08 L445.1,403.22 L445.99,403.35 L446.88,403.48 L447.77,403.61 L448.67,403.73 L449.56,403.84 L450.45,403.95 L451.33,404.06 L452.22,404.16 L453.11,404.25 L454,404.35 L454.88,404.44 L455.77,404.52 L456.65,404.61 L457.54,404.68 L458.42,404.76 L459.3,404.83 L460.18,404.9 L461.07,404.97 L461.95,405.03 L462.83,405.09 L463.71,405.15 L464.59,405.21 L465.47,405.27 L466.35,405.32 L467.23,405.37 L468.1,405.42 L468.98,405.46 L469.86,405.51 L470.74,405.55 L471.61,405.59 L472.49,405.63 L473.37,405.67 L474.24,405.7 L475.12,405.74 L475.99,405.77 L476.87,405.81 L477.74,405.84 L478.62,405.87 L479.49,405.9 L480.36,405.92 L481.24,405.95 L482.11,405.98 L482.99,406 L483.86,406.02 L484.73,406.05 L485.6,406.07 L486.48,406.09 L487.35,406.11 L488.22,406.13 L489.09,406.14 L489.97,406.16 L490.84,406.17 L491.71,406.19 L492.58,406.2 L493.45,406.21 L494.33,406.23 L495.2,406.24 L496.07,406.25 L496.94,406.26 L497.81,406.27 L498.68,406.28 L499.55,406.29 L499.65,397.49 L498.78,397.48 L497.91,397.47 L497.05,397.46 L496.18,397.45 L495.31,397.44 L494.45,397.43 L493.58,397.41 L492.72,397.4 L491.85,397.39 L490.98,397.37 L490.12,397.36 L489.25,397.34 L488.39,397.33 L487.52,397.31 L486.66,397.3 L485.79,397.28 L484.93,397.27 L484.06,397.25 L483.2,397.23 L482.33,397.21 L481.47,397.19 L480.61,397.17 L479.74,397.15 L478.88,397.13 L478.02,397.11 L477.15,397.08 L476.29,397.05 L475.43,397.03 L474.57,397 L473.7,396.97 L472.84,396.94 L471.98,396.91 L471.12,396.87 L470.26,396.84 L469.4,396.8 L468.54,396.76 L467.68,396.72 L466.82,396.67 L465.96,396.63 L465.1,396.58 L464.25,396.53 L463.39,396.48 L462.53,396.43 L461.68,396.37 L460.82,396.31 L459.96,396.25 L459.11,396.19 L458.26,396.12 L457.4,396.05 L456.55,395.97 L455.7,395.9 L454.84,395.82 L453.99,395.74 L453.14,395.65 L452.29,395.56 L451.44,395.46 L450.6,395.36 L449.75,395.26 L448.9,395.15 L448.06,395.04 L447.21,394.92 L446.37,394.8 L445.52,394.68 L444.68,394.54 L443.84,394.41 L443,394.26 L442.16,394.11 L441.32,393.96 L440.49,393.8 L439.65,393.63 L438.81,393.45 L437.98,393.27 L437.15,393.08 L436.32,392.88 L435.48,392.68 L434.65,392.46 L433.83,392.24 L433,392.01 L432.17,391.77 L431.35,391.52 L430.52,391.26 L429.69,391 L428.87,390.73 L428.04,390.45 L427.22,390.15 L426.4,389.85 L425.57,389.53 L424.75,389.2 L423.93,388.85 L423.11,388.5 L422.29,388.13 L421.46,387.74 L420.64,387.34 L419.82,386.93 L419,386.5 L418.18,386.05 L417.36,385.59 L416.54,385.1 L415.71,384.61 L414.89,384.09 L414.07,383.56 L413.24,383 L412.42,382.43 L411.59,381.83 L410.77,381.22 L409.94,380.58 L409.11,379.92 L408.28,379.24 L407.44,378.54 L406.61,377.81 L405.78,377.06 L404.94,376.29 L404.1,375.49 L403.26,374.67 L402.42,373.82 L401.58,372.95 L400.73,372.05 L399.89,371.12 L399.04,370.17 L398.19,369.2 L397.34,368.2 L396.49,367.17 L395.63,366.12 L394.78,365.04 L393.92,363.94 L393.06,362.81 L392.2,361.65 L391.34,360.48 L390.48,359.27 L389.62,358.05 L388.76,356.8 L387.89,355.53 L387.02,354.24 L386.16,352.92 L385.29,351.59 L384.42,350.24 L383.55,348.87 L382.68,347.48 L381.82,346.07 L380.96,344.65 L380.1,343.21 L379.23,341.77 L378.37,340.31 L377.5,338.84 L376.64,337.36 L375.77,335.88 L374.91,334.39 L374.04,332.89 L373.17,331.4 L372.3,329.9 L371.43,328.4 L370.56,326.9 L369.69,325.41 L368.82,323.92 L367.94,322.44 L367.07,320.96 L366.2,319.49 L365.32,318.03 L364.45,316.58 L363.57,315.15 L362.7,313.72 L361.83,312.3 L360.97,310.89 L360.11,309.51 L359.24,308.13 L358.38,306.78 L357.51,305.44 L356.64,304.13 L355.77,302.83 L354.9,301.56 L354.03,300.3 L353.16,299.07 L352.28,297.86 L351.41,296.67 L350.53,295.51 L349.65,294.36 L348.77,293.25 L347.89,292.15 L347,291.08 L346.12,290.04 L345.23,289.01 L344.34,288.01 L343.45,287.04 L342.56,286.09 L341.67,285.16 L340.77,284.26 L339.86,283.4 L338.95,282.55 L338.03,281.74 L337.12,280.94 L336.2,280.17 L335.29,279.42 L334.37,278.7 L333.45,278 L332.53,277.32 L331.61,276.66 L330.69,276.02 L329.77,275.4 L328.88,274.82Z" fill="rgba(255,0,255,0.2)" stroke="none" clip-path="url(#c7)"/>
<clipPath id="c8"><rect x="338.7" y="0" width="148.9" height="473"/></clipPath>
<path d="M326.72,363.46 L327.59,363.45 L328.46,363.45 L329.33,363.44 L330.2,363.43 L331.07,363.43 L331.95,363.42 L332.82,363.41 L333.69,363.4 L334.56,363.39 L335.43,363.38 L336.3,363.36 L337.17,363.35 L338.05,363.34 L338.92,363.32 L339.79,363.3 L340.66,363.28 L341.53,363.26 L342.41,363.24 L343.28,363.21 L344.15,363.19 L345.03,363.16 L345.9,363.14 L346.78,363.11 L347.65,363.08 L348.53,363.04 L349.4,363.01 L350.28,362.97 L351.15,362.93 L352.03,362.89 L352.91,362.85 L353.79,362.8 L354.67,362.76 L355.54,362.7 L356.42,362.65 L357.3,362.59 L358.19,362.53 L359.07,362.47 L359.95,362.4 L360.83,362.32 L361.72,362.25 L362.6,362.16 L363.49,362.08 L364.38,361.98 L365.26,361.89 L366.15,361.78 L367.04,361.67 L367.93,361.55 L368.83,361.43 L369.72,361.3 L370.62,361.15 L371.51,361 L372.41,360.85 L373.31,360.68 L374.21,360.5 L375.12,360.31 L376.02,360.1 L376.93,359.89 L377.83,359.66 L378.74,359.42 L379.65,359.16 L380.57,358.89 L381.48,358.6 L382.39,358.29 L383.31,357.96 L384.22,357.61 L385.14,357.24 L386.06,356.85 L386.98,356.44 L387.89,356.01 L388.81,355.55 L389.73,355.07 L390.65,354.56 L391.57,354.03 L392.49,353.47 L393.41,352.88 L394.32,352.26 L395.24,351.61 L396.15,350.93 L397.07,350.22 L397.98,349.48 L398.89,348.71 L399.8,347.9 L400.7,347.06 L401.6,346.18 L402.5,345.27 L403.4,344.33 L404.3,343.35 L405.19,342.33 L406.08,341.29 L406.97,340.2 L407.86,339.09 L408.75,337.94 L409.63,336.76 L410.51,335.54 L411.39,334.3 L412.27,333.02 L413.14,331.72 L414.02,330.39 L414.89,329.04 L415.76,327.67 L416.63,326.27 L417.5,324.85 L418.36,323.42 L419.23,321.98 L420.09,320.52 L420.96,319.06 L421.82,317.59 L422.68,316.12 L423.55,314.65 L424.41,313.19 L425.27,311.73 L426.13,310.28 L426.99,308.84 L427.84,307.42 L428.7,306.01 L429.56,304.63 L430.41,303.26 L431.26,301.93 L432.11,300.61 L432.96,299.33 L433.81,298.08 L434.66,296.85 L435.51,295.66 L436.35,294.51 L437.19,293.39 L438.04,292.3 L438.88,291.25 L439.71,290.24 L440.55,289.27 L441.39,288.33 L442.22,287.42 L443.05,286.55 L443.88,285.72 L444.71,284.92 L445.54,284.16 L446.37,283.43 L447.19,282.73 L448.02,282.07 L448.84,281.43 L449.66,280.83 L450.48,280.25 L451.31,279.7 L452.13,279.18 L452.95,278.68 L453.77,278.21 L454.59,277.76 L455.42,277.33 L456.24,276.93 L457.07,276.54 L457.89,276.18 L458.72,275.83 L459.55,275.5 L460.37,275.19 L461.2,274.9 L462.04,274.62 L462.87,274.35 L463.7,274.1 L464.54,273.86 L465.38,273.64 L466.22,273.43 L467.06,273.22 L467.9,273.03 L468.74,272.85 L469.59,272.68 L470.43,272.52 L471.28,272.37 L472.13,272.23 L472.97,272.09 L473.82,271.96 L474.68,271.84 L475.53,271.72 L476.38,271.62 L477.24,271.51 L478.09,271.42 L478.95,271.33 L479.8,271.24 L480.66,271.16 L481.52,271.08 L482.38,271.01 L483.24,270.94 L484.1,270.87 L484.96,270.81 L485.82,270.75 L486.68,270.7 L487.54,270.65 L488.4,270.6 L489.27,270.56 L490.13,270.52 L490.99,270.49 L491.86,270.45 L492.72,270.42 L493.58,270.39 L494.45,270.36 L495.31,270.34 L496.18,270.31 L497.05,270.29 L497.91,270.27 L498.78,270.25 L499.64,270.23 L499.56,266.23 L498.69,266.25 L497.81,266.27 L496.94,266.29 L496.07,266.31 L495.2,266.34 L494.32,266.37 L493.45,266.39 L492.58,266.42 L491.7,266.46 L490.83,266.49 L489.96,266.53 L489.08,266.57 L488.21,266.61 L487.33,266.65 L486.46,266.69 L485.58,266.74 L484.7,266.78 L483.83,266.83 L482.95,266.89 L482.07,266.95 L481.19,267.01 L480.31,267.07 L479.43,267.15 L478.55,267.22 L477.67,267.3 L476.79,267.39 L475.9,267.48 L475.02,267.58 L474.13,267.69 L473.24,267.8 L472.36,267.92 L471.47,268.05 L470.58,268.19 L469.69,268.33 L468.8,268.49 L467.9,268.66 L467.01,268.84 L466.11,269.02 L465.21,269.23 L464.31,269.44 L463.41,269.67 L462.51,269.91 L461.61,270.17 L460.71,270.44 L459.8,270.73 L458.89,271.04 L457.98,271.37 L457.07,271.71 L456.16,272.08 L455.25,272.47 L454.34,272.88 L453.42,273.31 L452.51,273.77 L451.59,274.26 L450.68,274.77 L449.76,275.31 L448.85,275.87 L447.93,276.47 L447.01,277.09 L446.1,277.75 L445.19,278.44 L444.27,279.16 L443.36,279.91 L442.45,280.7 L441.54,281.52 L440.63,282.37 L439.72,283.26 L438.82,284.19 L437.91,285.15 L437.01,286.14 L436.11,287.18 L435.21,288.24 L434.31,289.34 L433.42,290.48 L432.52,291.64 L431.63,292.84 L430.74,294.07 L429.85,295.33 L428.96,296.62 L428.07,297.94 L427.18,299.28 L426.3,300.64 L425.42,302.03 L424.53,303.43 L423.65,304.86 L422.77,306.29 L421.89,307.74 L421.02,309.19 L420.14,310.65 L419.26,312.11 L418.39,313.57 L417.51,315.03 L416.64,316.48 L415.76,317.92 L414.89,319.35 L414.02,320.77 L413.15,322.16 L412.28,323.54 L411.41,324.89 L410.54,326.22 L409.68,327.52 L408.81,328.8 L407.95,330.04 L407.09,331.25 L406.23,332.43 L405.38,333.58 L404.52,334.68 L403.67,335.76 L402.82,336.79 L401.97,337.79 L401.12,338.75 L400.28,339.68 L399.44,340.57 L398.6,341.42 L397.76,342.23 L396.93,343.01 L396.1,343.76 L395.27,344.47 L394.44,345.15 L393.61,345.8 L392.79,346.41 L391.96,347 L391.14,347.55 L390.32,348.08 L389.5,348.58 L388.68,349.06 L387.86,349.51 L387.04,349.94 L386.22,350.35 L385.41,350.73 L384.59,351.09 L383.77,351.44 L382.95,351.76 L382.13,352.07 L381.3,352.36 L380.48,352.64 L379.66,352.9 L378.83,353.15 L378.01,353.38 L377.18,353.61 L376.35,353.82 L375.52,354.02 L374.69,354.21 L373.86,354.39 L373.02,354.55 L372.19,354.71 L371.35,354.86 L370.51,355 L369.67,355.13 L368.83,355.26 L367.98,355.38 L367.14,355.49 L366.29,355.59 L365.44,355.69 L364.6,355.78 L363.75,355.87 L362.89,355.95 L362.04,356.02 L361.19,356.09 L360.34,356.16 L359.48,356.22 L358.63,356.28 L357.77,356.33 L356.91,356.39 L356.06,356.43 L355.2,356.48 L354.34,356.52 L353.48,356.56 L352.62,356.6 L351.76,356.63 L350.9,356.66 L350.04,356.69 L349.18,356.72 L348.32,356.75 L347.45,356.77 L346.59,356.79 L345.73,356.81 L344.86,356.83 L344,356.85 L343.14,356.87 L342.27,356.88 L341.41,356.89 L340.54,356.91 L339.68,356.92 L338.81,356.93 L337.94,356.94 L337.08,356.95 L336.21,356.97 L335.35,356.98 L334.48,356.99 L333.61,357 L332.75,357.01 L331.88,357.02 L331.01,357.03 L330.15,357.03 L329.28,357.04 L328.41,357.05 L327.55,357.05 L326.68,357.06Z" fill="rgba(255,0,255,0.2)" stroke="none" clip-path="url(#c8)"/>
<path d="M306.75,243.5 V436.5 H500 V243.5 Z" fill="none" stroke="#111" stroke-width="1.1"/>
<line x1="306.75" y1="412.18" x2="310.35" y2="412.18" stroke="#111" stroke-width="1"/>
<text x="303.8" y="416.78" text-anchor="end" font-size="14" >40</text>
<line x1="306.75" y1="363.93" x2="310.35" y2="363.93" stroke="#111" stroke-width="1"/>
<text x="303.8" y="368.53" text-anchor="end" font-size="14" >60</text>
<line x1="306.75" y1="315.68" x2="310.35" y2="315.68" stroke="#111" stroke-width="1"/>
<text x="303.8" y="320.28" text-anchor="end" font-size="14" >80</text>
<line x1="306.75" y1="267.43" x2="310.35" y2="267.43" stroke="#111" stroke-width="1"/>
<text x="303.8" y="272.03" text-anchor="end" font-size="14" >100</text>
<line x1="306.75" y1="388.05" x2="308.75" y2="388.05" stroke="#111" stroke-width="1"/>
<line x1="306.75" y1="339.8" x2="308.75" y2="339.8" stroke="#111" stroke-width="1"/>
<line x1="306.75" y1="291.55" x2="308.75" y2="291.55" stroke="#111" stroke-width="1"/>
<line x1="339.6" y1="436.5" x2="339.6" y2="432.9" stroke="#111" stroke-width="1"/>
<text x="339.6" y="451.2" text-anchor="middle" font-size="14" >-2</text>
<line x1="403.7" y1="436.5" x2="403.7" y2="432.9" stroke="#111" stroke-width="1"/>
<text x="403.7" y="451.2" text-anchor="middle" font-size="14" >0</text>
<line x1="467.8" y1="436.5" x2="467.8" y2="432.9" stroke="#111" stroke-width="1"/>
<text x="467.8" y="451.2" text-anchor="middle" font-size="14" >2</text>
<line x1="371.65" y1="436.5" x2="371.65" y2="434.5" stroke="#111" stroke-width="1"/>
<line x1="435.75" y1="436.5" x2="435.75" y2="434.5" stroke="#111" stroke-width="1"/>
<text x="402.88" y="469.4" text-anchor="middle" font-size="14.15" >Assumed threshold of PC1 score</text>
<text transform="translate(277.2,339.9) rotate(-90)" text-anchor="middle" font-size="14.2">Detection probability (%)</text>
<text transform="translate(256.5,254.4) scale(1.02,1.08)" font-size="17.3">(D)</text>
<rect x="508.5" y="8.5" width="175.5" height="134" fill="none" stroke="#999" stroke-width="1"/>
<line x1="509.5" y1="18.1" x2="543" y2="18.1" stroke="#ff0000" stroke-width="2.3"/>
<line x1="509.5" y1="46.7" x2="543" y2="46.7" stroke="#0000ff" stroke-width="2.3"/>
<line x1="509.5" y1="75.3" x2="541" y2="75.3" stroke="#ff0000" stroke-width="2.3" stroke-dasharray="10 11.5"/>
<line x1="509.5" y1="103.9" x2="541" y2="103.9" stroke="#0000ff" stroke-width="2.3" stroke-dasharray="10 11.5"/>
<rect x="511" y="125.2" width="31" height="14.6" fill="#ffccff"/>
<text x="549.2" y="22.8" text-anchor="start" font-size="14" >actual data of DPC</text>
<text x="545.9" y="51.4" text-anchor="start" font-size="14" >actual&#160; data of DPN</text>
<text x="545.7" y="80" text-anchor="start" font-size="14" >fitting line of DPC</text>
<text x="545.7" y="108.6" text-anchor="start" font-size="14" >fitting line of DPN</text>
<text x="545.2" y="137.3" text-anchor="start" font-size="14" >95% confidence interval</text>
</svg></body></html>
